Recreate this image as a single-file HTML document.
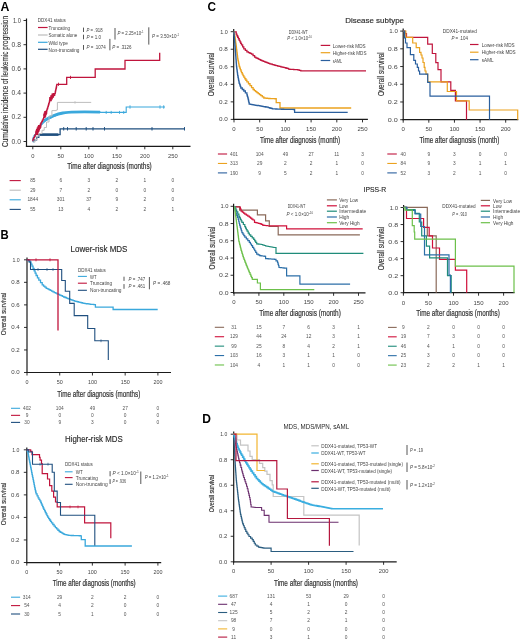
<!DOCTYPE html>
<html><head><meta charset="utf-8"><style>
html,body{margin:0;padding:0;background:#fff;}
svg{display:block;font-family:"Liberation Sans", sans-serif;will-change:transform;}

</style></head><body>
<svg width="520" height="640" viewBox="0 0 520 640" font-family='"Liberation Sans", sans-serif' fill="#333">
<rect width="520" height="640" fill="#fff"/>
<text x="0.50" y="11.08" font-size="12.3" font-weight="bold" fill="#000" textLength="8.90" lengthAdjust="spacingAndGlyphs">A</text>
<line x1="26.50" y1="18.50" x2="26.50" y2="146.90" stroke="#1a1a1a" stroke-width="1.2"/>
<line x1="25.90" y1="146.30" x2="190.50" y2="146.30" stroke="#1a1a1a" stroke-width="1.2"/>
<line x1="23.50" y1="141.50" x2="26.50" y2="141.50" stroke="#1a1a1a" stroke-width="0.9"/>
<text x="20.90" y="143.64" font-size="6.3" text-anchor="end" fill="#444" textLength="9.40" lengthAdjust="spacingAndGlyphs">0.0</text>
<line x1="23.50" y1="117.30" x2="26.50" y2="117.30" stroke="#1a1a1a" stroke-width="0.9"/>
<text x="20.90" y="119.44" font-size="6.3" text-anchor="end" fill="#444" textLength="9.40" lengthAdjust="spacingAndGlyphs">0.2</text>
<line x1="23.50" y1="93.10" x2="26.50" y2="93.10" stroke="#1a1a1a" stroke-width="0.9"/>
<text x="20.90" y="95.24" font-size="6.3" text-anchor="end" fill="#444" textLength="9.40" lengthAdjust="spacingAndGlyphs">0.4</text>
<line x1="23.50" y1="68.90" x2="26.50" y2="68.90" stroke="#1a1a1a" stroke-width="0.9"/>
<text x="20.90" y="71.04" font-size="6.3" text-anchor="end" fill="#444" textLength="9.40" lengthAdjust="spacingAndGlyphs">0.6</text>
<line x1="23.50" y1="44.70" x2="26.50" y2="44.70" stroke="#1a1a1a" stroke-width="0.9"/>
<text x="20.90" y="46.84" font-size="6.3" text-anchor="end" fill="#444" textLength="9.40" lengthAdjust="spacingAndGlyphs">0.8</text>
<line x1="23.50" y1="20.50" x2="26.50" y2="20.50" stroke="#1a1a1a" stroke-width="0.9"/>
<text x="20.90" y="22.64" font-size="6.3" text-anchor="end" fill="#444" textLength="7.99" lengthAdjust="spacingAndGlyphs">1.0</text>
<line x1="32.80" y1="146.30" x2="32.80" y2="149.30" stroke="#1a1a1a" stroke-width="0.9"/>
<text x="32.80" y="157.87" font-size="5.8" text-anchor="middle" fill="#444">0</text>
<line x1="60.80" y1="146.30" x2="60.80" y2="149.30" stroke="#1a1a1a" stroke-width="0.9"/>
<text x="60.80" y="157.87" font-size="5.8" text-anchor="middle" fill="#444">50</text>
<line x1="88.80" y1="146.30" x2="88.80" y2="149.30" stroke="#1a1a1a" stroke-width="0.9"/>
<text x="88.80" y="157.87" font-size="5.8" text-anchor="middle" fill="#444">100</text>
<line x1="116.80" y1="146.30" x2="116.80" y2="149.30" stroke="#1a1a1a" stroke-width="0.9"/>
<text x="116.80" y="157.87" font-size="5.8" text-anchor="middle" fill="#444">150</text>
<line x1="144.80" y1="146.30" x2="144.80" y2="149.30" stroke="#1a1a1a" stroke-width="0.9"/>
<text x="144.80" y="157.87" font-size="5.8" text-anchor="middle" fill="#444">200</text>
<line x1="172.80" y1="146.30" x2="172.80" y2="149.30" stroke="#1a1a1a" stroke-width="0.9"/>
<text x="172.80" y="157.87" font-size="5.8" text-anchor="middle" fill="#444">250</text>
<text transform="translate(4.80 81.50) rotate(-90)" x="0" y="2.86" font-size="8.4" stroke="#333" stroke-width="0.15" text-anchor="middle" textLength="131.00" lengthAdjust="spacingAndGlyphs">Cumulative incidence of leukemic progression</text>
<text x="109.50" y="169.42" font-size="8.6" stroke="#333" stroke-width="0.2" text-anchor="middle" textLength="84.50" lengthAdjust="spacingAndGlyphs">Time after diagnosis (months)</text>
<text x="37.80" y="22.07" font-size="5.5" fill="#444" textLength="28.00" lengthAdjust="spacingAndGlyphs">DDX41 status</text>
<line x1="38.00" y1="27.50" x2="47.60" y2="27.50" stroke="#c0143c" stroke-width="1.2"/>
<text x="48.50" y="29.87" font-size="5.8" fill="#444" textLength="21.50" lengthAdjust="spacingAndGlyphs">Truncating</text>
<line x1="38.00" y1="35.00" x2="47.60" y2="35.00" stroke="#bdbdbd" stroke-width="1.2"/>
<text x="48.50" y="37.37" font-size="5.8" fill="#444" textLength="28.80" lengthAdjust="spacingAndGlyphs">Somatic alone</text>
<line x1="38.00" y1="42.30" x2="47.60" y2="42.30" stroke="#3aa8dc" stroke-width="1.2"/>
<text x="48.50" y="44.67" font-size="5.8" fill="#444" textLength="19.50" lengthAdjust="spacingAndGlyphs">Wild type</text>
<line x1="38.00" y1="49.30" x2="47.60" y2="49.30" stroke="#1f4f7f" stroke-width="1.2"/>
<text x="48.50" y="51.67" font-size="5.8" fill="#444" textLength="31.00" lengthAdjust="spacingAndGlyphs">Non-truncating</text>
<line x1="83.50" y1="27.60" x2="83.50" y2="32.00" stroke="#444" stroke-width="0.9"/>
<text x="86.50" y="31.90" font-size="5.6" fill="#444" textLength="16.00" lengthAdjust="spacingAndGlyphs"><tspan font-style="italic">P</tspan> = .918</text>
<line x1="83.50" y1="34.70" x2="83.50" y2="39.30" stroke="#444" stroke-width="0.9"/>
<text x="86.50" y="39.00" font-size="5.6" fill="#444" textLength="14.50" lengthAdjust="spacingAndGlyphs"><tspan font-style="italic">P</tspan> = 1.0</text>
<line x1="83.50" y1="45.00" x2="83.50" y2="49.80" stroke="#444" stroke-width="0.9"/>
<text x="86.50" y="49.40" font-size="5.6" fill="#444" textLength="19.30" lengthAdjust="spacingAndGlyphs"><tspan font-style="italic">P</tspan> = .1074</text>
<line x1="109.90" y1="38.90" x2="109.90" y2="50.30" stroke="#444" stroke-width="0.9"/>
<text x="112.30" y="48.80" font-size="5.6" fill="#444" textLength="19.30" lengthAdjust="spacingAndGlyphs"><tspan font-style="italic">P</tspan> = .3126</text>
<line x1="115.00" y1="28.00" x2="115.00" y2="39.60" stroke="#444" stroke-width="0.9"/>
<text x="117.50" y="34.90" font-size="5.6" fill="#444" textLength="26.00" lengthAdjust="spacingAndGlyphs"><tspan font-style="italic">P</tspan> = 2.25×10<tspan font-size="3.4" dy="-2">-1</tspan></text>
<line x1="148.80" y1="27.30" x2="148.80" y2="44.60" stroke="#444" stroke-width="0.9"/>
<text x="152.00" y="38.30" font-size="5.6" fill="#444" textLength="27.00" lengthAdjust="spacingAndGlyphs"><tspan font-style="italic">P</tspan> = 3.50×10<tspan font-size="3.4" dy="-2">-1</tspan></text>
<path d="M32.80 141.50H34.50V139.80H36.60V137.40H38.80V134.60H60.10V128.80H184.50V128.80" fill="none" stroke="#1f4f7f" stroke-width="1.3"/>
<path d="M39.5 134.6H58.5" fill="none" stroke="#1f4f7f" stroke-width="2.6"/>
<line x1="63.70" y1="127.10" x2="63.70" y2="130.50" stroke="#1f4f7f" stroke-width="1.0"/>
<line x1="67.50" y1="127.10" x2="67.50" y2="130.50" stroke="#1f4f7f" stroke-width="1.0"/>
<line x1="76.20" y1="127.10" x2="76.20" y2="130.50" stroke="#1f4f7f" stroke-width="1.0"/>
<line x1="86.20" y1="127.10" x2="86.20" y2="130.50" stroke="#1f4f7f" stroke-width="1.0"/>
<line x1="93.00" y1="127.10" x2="93.00" y2="130.50" stroke="#1f4f7f" stroke-width="1.0"/>
<line x1="104.50" y1="127.10" x2="104.50" y2="130.50" stroke="#1f4f7f" stroke-width="1.0"/>
<line x1="152.00" y1="127.10" x2="152.00" y2="130.50" stroke="#1f4f7f" stroke-width="1.0"/>
<line x1="184.50" y1="127.10" x2="184.50" y2="130.50" stroke="#1f4f7f" stroke-width="1.0"/>
<path d="M32.80 141.50H32.97V140.13H33.13V138.77H33.30V137.40H34.12V136.03H34.95V134.65H35.77V133.28H36.60V131.90H37.32V130.62H38.03V129.33H38.75V128.05H39.47V126.77H40.18V125.48H40.90V124.20H42.00V123.13H43.10V122.07H44.20V121.00H45.30V120.27H46.40V119.53H47.50V118.80H48.60V118.25H49.70V117.70H50.80V117.15H51.90V116.60H53.00V116.16H54.10V115.72H55.20V115.28H56.30V114.84H57.40V114.40H58.48V114.14H59.56V113.88H60.64V113.62H61.72V113.36H62.80V113.10H63.90V112.92H65.00V112.74H66.10V112.56H67.20V112.38H68.30V112.20H69.40V112.13H70.50V112.06H71.60V111.99H72.70V111.91H73.80V111.84H74.90V111.77H76.00V111.70H77.00V111.72H78.00V111.74H79.00V111.76H80.00V111.78H81.00V111.80H82.00V111.82H83.00V111.84H84.00V111.86H85.00V111.88H86.00V111.90H87.00V111.93H88.00V111.96H89.00V111.99H90.00V112.01H91.00V112.04H92.00V112.07H93.00V112.10H94.00V112.13H95.00V112.16H96.00V112.19H97.00V112.21H98.00V112.24H99.00V112.27H100.00V112.30" fill="none" stroke="#3aa8dc" stroke-width="1.4"/>
<path d="M44 120.6 C50 117, 56 114.2, 62.8 113 S 80 111.6, 100 112.1" fill="none" stroke="#3aa8dc" stroke-width="2.8"/>
<path d="M100.00 112.40H126.20V112.40H126.20V107.00H165.00V107.00" fill="none" stroke="#3aa8dc" stroke-width="1.1"/>
<line x1="106.20" y1="110.90" x2="106.20" y2="113.90" stroke="#3aa8dc" stroke-width="0.9"/>
<line x1="111.20" y1="110.90" x2="111.20" y2="113.90" stroke="#3aa8dc" stroke-width="0.9"/>
<line x1="119.50" y1="110.90" x2="119.50" y2="113.90" stroke="#3aa8dc" stroke-width="0.9"/>
<line x1="123.70" y1="110.90" x2="123.70" y2="113.90" stroke="#3aa8dc" stroke-width="0.9"/>
<line x1="130.00" y1="105.30" x2="130.00" y2="108.70" stroke="#3aa8dc" stroke-width="0.9"/>
<line x1="160.00" y1="105.30" x2="160.00" y2="108.70" stroke="#3aa8dc" stroke-width="0.9"/>
<line x1="163.70" y1="105.30" x2="163.70" y2="108.70" stroke="#3aa8dc" stroke-width="0.9"/>
<path d="M33.50 141.50H35.00V139.50H37.00V136.00H39.00V133.50H42.00V130.30H44.20V127.50H46.50V122.00H49.00V116.00H51.90V110.60H56.30V110.00H57.40V102.40H91.20V102.40" fill="none" stroke="#bdbdbd" stroke-width="1.0"/>
<line x1="75.00" y1="101.00" x2="75.00" y2="103.80" stroke="#bdbdbd" stroke-width="0.7"/>
<path d="M32.20 140.60H32.97V139.07H33.73V137.53H34.50V136.00H35.20V134.63H35.90V133.27H36.60V131.90H37.24V130.58H37.88V129.26H38.52V127.94H39.16V126.62H39.80V125.30H40.46V124.00H41.12V122.70H41.78V121.40H42.44V120.10H43.10V118.80H43.65V117.42H44.20V116.05H44.75V114.67H45.30V113.30H45.85V111.92H46.40V110.55H46.95V109.17H47.50V107.80H47.90V106.45H48.30V105.10H48.70V103.75H49.10V102.40H49.47V100.93H49.83V99.47H50.20V98.00H51.90V95.80H53.50V93.60H55.20V92.00H55.48V90.75H55.75V89.50H56.02V88.25H56.30V87.00H56.55V85.65H56.80V84.30H66.7V77.4H95.2V69.0H125V60.3H159.7V52.7" fill="none" stroke="#c0143c" stroke-width="1.3"/>
<path d="M36.00 133.50H36.67V132.00H37.33V130.50H38.00V129.00H38.67V127.67H39.33V126.33H40.00V125.00" fill="none" stroke="#c0143c" stroke-width="2.8"/>
<path d="M44.00 116.50H44.50V115.12H45.00V113.75H45.50V112.38H46.00V111.00" fill="none" stroke="#c0143c" stroke-width="2.6"/>
<path d="M49.60 100.00H50.55V98.25H51.50V96.50H52.75V94.75H54.00V93.00" fill="none" stroke="#c0143c" stroke-width="2.6"/>
<line x1="58.50" y1="82.70" x2="58.50" y2="85.90" stroke="#c0143c" stroke-width="0.9"/>
<line x1="70.50" y1="75.80" x2="70.50" y2="79.00" stroke="#c0143c" stroke-width="0.9"/>
<line x1="9.60" y1="180.60" x2="20.80" y2="180.60" stroke="#c0143c" stroke-width="1.1"/>
<text x="32.80" y="182.23" font-size="4.8" text-anchor="middle" fill="#555">85</text>
<text x="60.80" y="182.23" font-size="4.8" text-anchor="middle" fill="#555">6</text>
<text x="88.80" y="182.23" font-size="4.8" text-anchor="middle" fill="#555">3</text>
<text x="116.80" y="182.23" font-size="4.8" text-anchor="middle" fill="#555">2</text>
<text x="144.80" y="182.23" font-size="4.8" text-anchor="middle" fill="#555">1</text>
<text x="172.80" y="182.23" font-size="4.8" text-anchor="middle" fill="#555">0</text>
<line x1="9.60" y1="190.20" x2="20.80" y2="190.20" stroke="#bdbdbd" stroke-width="1.1"/>
<text x="32.80" y="191.83" font-size="4.8" text-anchor="middle" fill="#555">29</text>
<text x="60.80" y="191.83" font-size="4.8" text-anchor="middle" fill="#555">7</text>
<text x="88.80" y="191.83" font-size="4.8" text-anchor="middle" fill="#555">2</text>
<text x="116.80" y="191.83" font-size="4.8" text-anchor="middle" fill="#555">0</text>
<text x="144.80" y="191.83" font-size="4.8" text-anchor="middle" fill="#555">0</text>
<text x="172.80" y="191.83" font-size="4.8" text-anchor="middle" fill="#555">0</text>
<line x1="9.60" y1="199.80" x2="20.80" y2="199.80" stroke="#3aa8dc" stroke-width="1.1"/>
<text x="32.80" y="201.43" font-size="4.8" text-anchor="middle" fill="#555">1844</text>
<text x="60.80" y="201.43" font-size="4.8" text-anchor="middle" fill="#555">301</text>
<text x="88.80" y="201.43" font-size="4.8" text-anchor="middle" fill="#555">37</text>
<text x="116.80" y="201.43" font-size="4.8" text-anchor="middle" fill="#555">9</text>
<text x="144.80" y="201.43" font-size="4.8" text-anchor="middle" fill="#555">2</text>
<text x="172.80" y="201.43" font-size="4.8" text-anchor="middle" fill="#555">0</text>
<line x1="9.60" y1="209.40" x2="20.80" y2="209.40" stroke="#1f4f7f" stroke-width="1.1"/>
<text x="32.80" y="211.03" font-size="4.8" text-anchor="middle" fill="#555">55</text>
<text x="60.80" y="211.03" font-size="4.8" text-anchor="middle" fill="#555">13</text>
<text x="88.80" y="211.03" font-size="4.8" text-anchor="middle" fill="#555">4</text>
<text x="116.80" y="211.03" font-size="4.8" text-anchor="middle" fill="#555">2</text>
<text x="144.80" y="211.03" font-size="4.8" text-anchor="middle" fill="#555">2</text>
<text x="172.80" y="211.03" font-size="4.8" text-anchor="middle" fill="#555">1</text>
<text x="0.60" y="238.78" font-size="12" font-weight="bold" fill="#000" textLength="8.20" lengthAdjust="spacingAndGlyphs">B</text>
<text x="99.00" y="251.99" font-size="8.2" stroke="#2a2a2a" stroke-width="0.15" text-anchor="middle" fill="#2a2a2a" textLength="56.90" lengthAdjust="spacingAndGlyphs">Lower-risk MDS</text>
<line x1="27.00" y1="257.50" x2="27.00" y2="373.10" stroke="#1a1a1a" stroke-width="1.2"/>
<line x1="26.40" y1="372.50" x2="171.00" y2="372.50" stroke="#1a1a1a" stroke-width="1.2"/>
<line x1="24.00" y1="372.50" x2="27.00" y2="372.50" stroke="#1a1a1a" stroke-width="0.9"/>
<text x="19.70" y="374.34" font-size="5.4" text-anchor="end" fill="#444" textLength="8.50" lengthAdjust="spacingAndGlyphs">0.0</text>
<line x1="24.00" y1="349.96" x2="27.00" y2="349.96" stroke="#1a1a1a" stroke-width="0.9"/>
<text x="19.70" y="351.80" font-size="5.4" text-anchor="end" fill="#444" textLength="8.50" lengthAdjust="spacingAndGlyphs">0.2</text>
<line x1="24.00" y1="327.42" x2="27.00" y2="327.42" stroke="#1a1a1a" stroke-width="0.9"/>
<text x="19.70" y="329.26" font-size="5.4" text-anchor="end" fill="#444" textLength="8.50" lengthAdjust="spacingAndGlyphs">0.4</text>
<line x1="24.00" y1="304.88" x2="27.00" y2="304.88" stroke="#1a1a1a" stroke-width="0.9"/>
<text x="19.70" y="306.72" font-size="5.4" text-anchor="end" fill="#444" textLength="8.50" lengthAdjust="spacingAndGlyphs">0.6</text>
<line x1="24.00" y1="282.34" x2="27.00" y2="282.34" stroke="#1a1a1a" stroke-width="0.9"/>
<text x="19.70" y="284.18" font-size="5.4" text-anchor="end" fill="#444" textLength="8.50" lengthAdjust="spacingAndGlyphs">0.8</text>
<line x1="24.00" y1="259.80" x2="27.00" y2="259.80" stroke="#1a1a1a" stroke-width="0.9"/>
<text x="19.70" y="261.64" font-size="5.4" text-anchor="end" fill="#444" textLength="7.22" lengthAdjust="spacingAndGlyphs">1.0</text>
<line x1="27.00" y1="372.50" x2="27.00" y2="375.50" stroke="#1a1a1a" stroke-width="0.9"/>
<text x="27.00" y="384.14" font-size="5.4" text-anchor="middle" fill="#444">0</text>
<line x1="59.73" y1="372.50" x2="59.73" y2="375.50" stroke="#1a1a1a" stroke-width="0.9"/>
<text x="59.73" y="384.14" font-size="5.4" text-anchor="middle" fill="#444">50</text>
<line x1="92.45" y1="372.50" x2="92.45" y2="375.50" stroke="#1a1a1a" stroke-width="0.9"/>
<text x="92.45" y="384.14" font-size="5.4" text-anchor="middle" fill="#444">100</text>
<line x1="125.17" y1="372.50" x2="125.17" y2="375.50" stroke="#1a1a1a" stroke-width="0.9"/>
<text x="125.17" y="384.14" font-size="5.4" text-anchor="middle" fill="#444">150</text>
<line x1="157.90" y1="372.50" x2="157.90" y2="375.50" stroke="#1a1a1a" stroke-width="0.9"/>
<text x="157.90" y="384.14" font-size="5.4" text-anchor="middle" fill="#444">200</text>
<text transform="translate(3.70 314.00) rotate(-90)" x="0" y="2.45" font-size="7.2" stroke="#333" stroke-width="0.15" text-anchor="middle" textLength="42.70" lengthAdjust="spacingAndGlyphs">Overall survival</text>
<text x="98.80" y="397.22" font-size="8.6" stroke="#333" stroke-width="0.2" text-anchor="middle" textLength="83.00" lengthAdjust="spacingAndGlyphs">Time after diagnosis (months)</text>
<text x="77.90" y="271.54" font-size="5.4" fill="#444" textLength="28.00" lengthAdjust="spacingAndGlyphs">DDX41 status</text>
<line x1="77.90" y1="276.40" x2="86.90" y2="276.40" stroke="#3aa8dc" stroke-width="1.1"/>
<text x="90.00" y="278.50" font-size="5.6" fill="#444" textLength="6.50" lengthAdjust="spacingAndGlyphs">WT</text>
<line x1="77.90" y1="283.20" x2="86.90" y2="283.20" stroke="#c0143c" stroke-width="1.1"/>
<text x="90.00" y="285.30" font-size="5.6" fill="#444" textLength="22.00" lengthAdjust="spacingAndGlyphs">Truncating</text>
<line x1="77.90" y1="290.30" x2="86.90" y2="290.30" stroke="#1f4f7f" stroke-width="1.1"/>
<text x="90.00" y="292.40" font-size="5.6" fill="#444" textLength="31.50" lengthAdjust="spacingAndGlyphs">Non-truncating</text>
<line x1="124.00" y1="276.70" x2="124.00" y2="280.90" stroke="#444" stroke-width="0.9"/>
<text x="128.60" y="280.90" font-size="5.0" fill="#444" textLength="16.60" lengthAdjust="spacingAndGlyphs"><tspan font-style="italic">P</tspan> = .747</text>
<line x1="124.00" y1="284.10" x2="124.00" y2="288.80" stroke="#444" stroke-width="0.9"/>
<text x="128.60" y="287.60" font-size="5.0" fill="#444" textLength="16.60" lengthAdjust="spacingAndGlyphs"><tspan font-style="italic">P</tspan> = .461</text>
<line x1="149.40" y1="277.00" x2="149.40" y2="289.30" stroke="#444" stroke-width="0.9"/>
<text x="153.00" y="284.50" font-size="5.0" fill="#444" textLength="17.40" lengthAdjust="spacingAndGlyphs"><tspan font-style="italic">P</tspan> = .468</text>
<path d="M26.70 259.80H28.20V260.50H30.00V262.00H31.00V264.05H32.00V266.10H33.05V268.45H34.10V270.80H35.10V273.15H36.10V275.50H37.45V277.85H38.80V280.20H40.50V282.55H42.20V284.90H43.53V286.03H44.87V287.17H46.20V288.30H47.53V288.97H48.87V289.63H50.20V290.30H51.57V291.07H52.93V291.83H54.30V292.60H55.63V293.20H56.97V293.80H58.30V294.40H59.65V295.05H61.00V295.70H62.35V296.35H63.70V297.00H65.05V297.52H66.40V298.05H67.75V298.58H69.10V299.10H70.45V299.60H71.80V300.10H73.15V300.60H74.50V301.10H75.83V301.43H77.17V301.77H78.50V302.10H79.83V302.43H81.17V302.77H82.50V303.10H83.85V303.32H85.20V303.53H86.55V303.75H87.90V303.97H89.25V304.18H90.60V304.40H92.20V304.47H93.80V304.53H95.40V304.60H95.40V307.20H96.76V307.20H98.12V307.20H99.48V307.20H100.85V307.20H102.21V307.20H103.57V307.20H104.93V307.20H106.29V307.20H107.65V307.20H109.02V307.20H110.38V307.20H111.74V307.20H113.10V307.20H113.10V309.50H114.41V309.50H115.72V309.50H117.04V309.50H118.35V309.50H119.66V309.50H120.97V309.50H122.28V309.50H123.59V309.50H124.91V309.50H126.22V309.50H127.53V309.50H128.84V309.50H130.15V309.50H131.46V309.50H132.78V309.50H134.09V309.50H135.40V309.50H136.71V309.50H138.02V309.50H139.34V309.50H140.65V309.50H141.96V309.50H143.27V309.50H144.58V309.50H145.89V309.50H147.21V309.50H148.52V309.50H149.83V309.50H151.14V309.50H152.45V309.50H153.76V309.50H155.08V309.50H156.39V309.50H157.70V309.50" fill="none" stroke="#3aa8dc" stroke-width="1.3"/>
<path d="M26.70 259.80H29.00V259.80H29.00V262.00H30.50V262.00H30.50V269.50H61.70V269.50H61.70V280.50H65.30V280.50H65.30V291.30H69.70V291.30H69.70V303.40H74.20V303.40H74.20V315.60H87.70V315.60H87.70V328.50H94.80V328.50H94.80V340.80H108.30V340.80H108.30V360.00" fill="none" stroke="#1f4f7f" stroke-width="1.1"/>
<path d="M26.70 259.80H58.00V259.80H58.00V330.60" fill="none" stroke="#c0143c" stroke-width="1.3"/>
<line x1="36.00" y1="258.30" x2="36.00" y2="261.30" stroke="#c0143c" stroke-width="0.8"/>
<line x1="50.00" y1="258.30" x2="50.00" y2="261.30" stroke="#c0143c" stroke-width="0.8"/>
<line x1="38.00" y1="268.10" x2="38.00" y2="270.90" stroke="#1f4f7f" stroke-width="0.7"/>
<line x1="47.00" y1="268.10" x2="47.00" y2="270.90" stroke="#1f4f7f" stroke-width="0.7"/>
<line x1="53.00" y1="268.10" x2="53.00" y2="270.90" stroke="#1f4f7f" stroke-width="0.7"/>
<line x1="101.00" y1="339.40" x2="101.00" y2="342.20" stroke="#1f4f7f" stroke-width="0.7"/>
<line x1="11.00" y1="408.30" x2="20.10" y2="408.30" stroke="#3aa8dc" stroke-width="1.1"/>
<text x="27.00" y="409.93" font-size="4.8" text-anchor="middle" fill="#555">402</text>
<text x="59.73" y="409.93" font-size="4.8" text-anchor="middle" fill="#555">104</text>
<text x="92.45" y="409.93" font-size="4.8" text-anchor="middle" fill="#555">49</text>
<text x="125.17" y="409.93" font-size="4.8" text-anchor="middle" fill="#555">27</text>
<text x="157.90" y="409.93" font-size="4.8" text-anchor="middle" fill="#555">0</text>
<line x1="11.00" y1="415.35" x2="20.10" y2="415.35" stroke="#c0143c" stroke-width="1.1"/>
<text x="27.00" y="416.98" font-size="4.8" text-anchor="middle" fill="#555">9</text>
<text x="59.73" y="416.98" font-size="4.8" text-anchor="middle" fill="#555">0</text>
<text x="92.45" y="416.98" font-size="4.8" text-anchor="middle" fill="#555">0</text>
<text x="125.17" y="416.98" font-size="4.8" text-anchor="middle" fill="#555">0</text>
<text x="157.90" y="416.98" font-size="4.8" text-anchor="middle" fill="#555">0</text>
<line x1="11.00" y1="422.40" x2="20.10" y2="422.40" stroke="#1f4f7f" stroke-width="1.1"/>
<text x="27.00" y="424.03" font-size="4.8" text-anchor="middle" fill="#555">30</text>
<text x="59.73" y="424.03" font-size="4.8" text-anchor="middle" fill="#555">9</text>
<text x="92.45" y="424.03" font-size="4.8" text-anchor="middle" fill="#555">3</text>
<text x="125.17" y="424.03" font-size="4.8" text-anchor="middle" fill="#555">0</text>
<text x="157.90" y="424.03" font-size="4.8" text-anchor="middle" fill="#555">0</text>
<text x="93.85" y="441.99" font-size="8.2" stroke="#2a2a2a" stroke-width="0.15" text-anchor="middle" fill="#2a2a2a" textLength="57.70" lengthAdjust="spacingAndGlyphs">Higher-risk MDS</text>
<line x1="26.80" y1="447.50" x2="26.80" y2="563.20" stroke="#1a1a1a" stroke-width="1.2"/>
<line x1="26.20" y1="562.60" x2="161.20" y2="562.60" stroke="#1a1a1a" stroke-width="1.2"/>
<line x1="23.80" y1="562.50" x2="26.80" y2="562.50" stroke="#1a1a1a" stroke-width="0.9"/>
<text x="19.50" y="564.34" font-size="5.4" text-anchor="end" fill="#444" textLength="8.50" lengthAdjust="spacingAndGlyphs">0.0</text>
<line x1="23.80" y1="539.96" x2="26.80" y2="539.96" stroke="#1a1a1a" stroke-width="0.9"/>
<text x="19.50" y="541.80" font-size="5.4" text-anchor="end" fill="#444" textLength="8.50" lengthAdjust="spacingAndGlyphs">0.2</text>
<line x1="23.80" y1="517.42" x2="26.80" y2="517.42" stroke="#1a1a1a" stroke-width="0.9"/>
<text x="19.50" y="519.26" font-size="5.4" text-anchor="end" fill="#444" textLength="8.50" lengthAdjust="spacingAndGlyphs">0.4</text>
<line x1="23.80" y1="494.88" x2="26.80" y2="494.88" stroke="#1a1a1a" stroke-width="0.9"/>
<text x="19.50" y="496.72" font-size="5.4" text-anchor="end" fill="#444" textLength="8.50" lengthAdjust="spacingAndGlyphs">0.6</text>
<line x1="23.80" y1="472.34" x2="26.80" y2="472.34" stroke="#1a1a1a" stroke-width="0.9"/>
<text x="19.50" y="474.18" font-size="5.4" text-anchor="end" fill="#444" textLength="8.50" lengthAdjust="spacingAndGlyphs">0.8</text>
<line x1="23.80" y1="449.80" x2="26.80" y2="449.80" stroke="#1a1a1a" stroke-width="0.9"/>
<text x="19.50" y="451.64" font-size="5.4" text-anchor="end" fill="#444" textLength="7.22" lengthAdjust="spacingAndGlyphs">1.0</text>
<line x1="26.80" y1="562.60" x2="26.80" y2="565.60" stroke="#1a1a1a" stroke-width="0.9"/>
<text x="26.80" y="573.64" font-size="5.4" text-anchor="middle" fill="#444">0</text>
<line x1="59.58" y1="562.60" x2="59.58" y2="565.60" stroke="#1a1a1a" stroke-width="0.9"/>
<text x="59.58" y="573.64" font-size="5.4" text-anchor="middle" fill="#444">50</text>
<line x1="92.35" y1="562.60" x2="92.35" y2="565.60" stroke="#1a1a1a" stroke-width="0.9"/>
<text x="92.35" y="573.64" font-size="5.4" text-anchor="middle" fill="#444">100</text>
<line x1="125.12" y1="562.60" x2="125.12" y2="565.60" stroke="#1a1a1a" stroke-width="0.9"/>
<text x="125.12" y="573.64" font-size="5.4" text-anchor="middle" fill="#444">150</text>
<line x1="157.90" y1="562.60" x2="157.90" y2="565.60" stroke="#1a1a1a" stroke-width="0.9"/>
<text x="157.90" y="573.64" font-size="5.4" text-anchor="middle" fill="#444">200</text>
<text transform="translate(3.70 504.00) rotate(-90)" x="0" y="2.45" font-size="7.2" stroke="#333" stroke-width="0.15" text-anchor="middle" textLength="42.70" lengthAdjust="spacingAndGlyphs">Overall survival</text>
<text x="94.20" y="585.92" font-size="8.6" stroke="#333" stroke-width="0.2" text-anchor="middle" textLength="83.00" lengthAdjust="spacingAndGlyphs">Time after diagnosis (months)</text>
<text x="64.90" y="466.04" font-size="5.4" fill="#444" textLength="27.90" lengthAdjust="spacingAndGlyphs">DDX41 status</text>
<line x1="64.90" y1="471.80" x2="72.60" y2="471.80" stroke="#3aa8dc" stroke-width="1.1"/>
<text x="75.80" y="473.90" font-size="5.6" fill="#444" textLength="7.00" lengthAdjust="spacingAndGlyphs">WT</text>
<line x1="64.90" y1="477.60" x2="72.60" y2="477.60" stroke="#c0143c" stroke-width="1.1"/>
<text x="75.80" y="479.70" font-size="5.6" fill="#444" textLength="22.20" lengthAdjust="spacingAndGlyphs">Truncating</text>
<line x1="64.90" y1="484.30" x2="72.60" y2="484.30" stroke="#1f4f7f" stroke-width="1.1"/>
<text x="75.80" y="486.40" font-size="5.6" fill="#444" textLength="32.00" lengthAdjust="spacingAndGlyphs">Non-truncating</text>
<line x1="110.10" y1="471.10" x2="110.10" y2="476.30" stroke="#444" stroke-width="0.9"/>
<text x="112.40" y="475.10" font-size="5.0" fill="#444" textLength="26.50" lengthAdjust="spacingAndGlyphs"><tspan font-style="italic">P</tspan> &lt; 1.0×10<tspan font-size="3.4" dy="-2">-1</tspan></text>
<line x1="110.10" y1="479.20" x2="110.10" y2="484.00" stroke="#444" stroke-width="0.9"/>
<text x="112.40" y="483.20" font-size="5.0" fill="#444" textLength="13.50" lengthAdjust="spacingAndGlyphs"><tspan font-style="italic">P</tspan> = .936</text>
<line x1="140.80" y1="471.50" x2="140.80" y2="484.00" stroke="#444" stroke-width="0.9"/>
<text x="144.70" y="478.90" font-size="5.0" fill="#444" textLength="24.00" lengthAdjust="spacingAndGlyphs"><tspan font-style="italic">P</tspan> = 1.2×10<tspan font-size="3.4" dy="-2">-1</tspan></text>
<path d="M26.70 449.80H27.35V451.60H28.00V453.40H28.28V454.88H28.56V456.36H28.84V457.84H29.12V459.32H29.40V460.80H29.72V462.48H30.05V464.15H30.38V465.82H30.70V467.50H31.02V469.20H31.35V470.90H31.68V472.60H32.00V474.30H32.35V475.98H32.70V477.65H33.05V479.32H33.40V481.00H33.73V482.68H34.05V484.35H34.38V486.02H34.70V487.70H35.05V489.23H35.40V490.75H35.75V492.27H36.10V493.80H37.10V495.80H38.10V497.80H39.00V499.37H39.90V500.93H40.80V502.50H41.40V503.88H42.00V505.26H42.60V506.64H43.20V508.02H43.80V509.40H44.58V510.94H45.36V512.48H46.14V514.02H46.92V515.56H47.70V517.10H48.65V518.55H49.60V520.00H50.55V521.45H51.50V522.90H52.80V524.50H54.10V526.10H55.40V527.70H56.67V528.97H57.93V530.23H59.20V531.50H60.40V532.23H61.60V532.95H62.80V533.67H64.00V534.40H65.20V534.65H66.40V534.90H67.60V535.15H68.80V535.40H69.96V535.44H71.12V535.48H72.28V535.52H73.44V535.56H74.60V535.60H75.76V535.64H76.92V535.68H78.08V535.72H79.24V535.76H80.40V535.80H81.30V535.80H81.30V537.70H81.30V539.60H82.60V539.60H83.90V539.60H85.20V539.60H85.20V541.20H85.20V542.80H85.20V544.40H85.20V546.00H86.31V546.00H87.42V546.00H88.54V546.00H89.65V546.00H90.76V546.00H91.87V546.00H92.98V546.00H94.10V546.00H95.21V546.00H96.32V546.00H97.43V546.00H98.54V546.00H99.65V546.00H100.77V546.00H101.88V546.00H102.99V546.00H104.10V546.00H105.21V546.00H106.33V546.00H107.44V546.00H108.55V546.00H109.66V546.00H110.77V546.00H111.89V546.00H113.00V546.00H114.11V546.00H115.22V546.00H116.33V546.00H117.45V546.00H118.56V546.00H119.67V546.00H120.78V546.00H121.89V546.00H123.00V546.00H124.12V546.00H125.23V546.00H126.34V546.00H127.45V546.00H128.56V546.00H129.68V546.00H130.79V546.00H131.90V546.00" fill="none" stroke="#3aa8dc" stroke-width="1.3"/>
<path d="M26.70 449.80H30.70V449.80H30.70V451.40H32.00V451.40H32.00V454.70H39.50V454.70H39.50V457.40H40.10V457.40H40.10V460.10H41.50V460.10H41.50V463.50H42.20V463.50H42.20V473.60H47.50V473.60H47.50V479.00H49.60V479.00H49.60V485.70H51.80V485.70H51.80V491.10H53.60V491.10H53.60V497.10H55.50V497.10H55.50V502.00H57.20V502.00H57.20V506.90H84.60V506.90H84.60V522.90H110.80V522.90H110.80V538.30" fill="none" stroke="#c0143c" stroke-width="1.2"/>
<path d="M26.70 449.80H28.70V449.80H28.70V452.00H32.50V452.00H32.50V464.20H52.20V464.20H52.20V472.20H54.30V472.20H54.30V491.10H57.20V491.10H57.20V502.50H60.50V502.50H60.50V515.20H94.80V515.20H94.80V545.40" fill="none" stroke="#1f4f7f" stroke-width="1.1"/>
<line x1="40.00" y1="462.80" x2="40.00" y2="465.60" stroke="#1f4f7f" stroke-width="0.7"/>
<line x1="48.00" y1="462.80" x2="48.00" y2="465.60" stroke="#1f4f7f" stroke-width="0.7"/>
<line x1="70.00" y1="505.50" x2="70.00" y2="508.30" stroke="#c0143c" stroke-width="0.7"/>
<line x1="78.00" y1="505.50" x2="78.00" y2="508.30" stroke="#c0143c" stroke-width="0.7"/>
<line x1="11.00" y1="597.20" x2="20.10" y2="597.20" stroke="#3aa8dc" stroke-width="1.1"/>
<text x="26.80" y="598.83" font-size="4.8" text-anchor="middle" fill="#555">314</text>
<text x="59.58" y="598.83" font-size="4.8" text-anchor="middle" fill="#555">29</text>
<text x="92.35" y="598.83" font-size="4.8" text-anchor="middle" fill="#555">2</text>
<text x="125.12" y="598.83" font-size="4.8" text-anchor="middle" fill="#555">2</text>
<text x="157.90" y="598.83" font-size="4.8" text-anchor="middle" fill="#555">0</text>
<line x1="11.00" y1="605.60" x2="20.10" y2="605.60" stroke="#c0143c" stroke-width="1.1"/>
<text x="26.80" y="607.23" font-size="4.8" text-anchor="middle" fill="#555">54</text>
<text x="59.58" y="607.23" font-size="4.8" text-anchor="middle" fill="#555">4</text>
<text x="92.35" y="607.23" font-size="4.8" text-anchor="middle" fill="#555">2</text>
<text x="125.12" y="607.23" font-size="4.8" text-anchor="middle" fill="#555">0</text>
<text x="157.90" y="607.23" font-size="4.8" text-anchor="middle" fill="#555">0</text>
<line x1="11.00" y1="614.00" x2="20.10" y2="614.00" stroke="#1f4f7f" stroke-width="1.1"/>
<text x="26.80" y="615.63" font-size="4.8" text-anchor="middle" fill="#555">30</text>
<text x="59.58" y="615.63" font-size="4.8" text-anchor="middle" fill="#555">5</text>
<text x="92.35" y="615.63" font-size="4.8" text-anchor="middle" fill="#555">1</text>
<text x="125.12" y="615.63" font-size="4.8" text-anchor="middle" fill="#555">0</text>
<text x="157.90" y="615.63" font-size="4.8" text-anchor="middle" fill="#555">0</text>
<text x="207.60" y="11.28" font-size="12.3" font-weight="bold" fill="#000" textLength="8.50" lengthAdjust="spacingAndGlyphs">C</text>
<text x="374.60" y="23.40" font-size="7.8" stroke="#2a2a2a" stroke-width="0.15" text-anchor="middle" fill="#2a2a2a" textLength="58.80" lengthAdjust="spacingAndGlyphs">Disease subtype</text>
<line x1="233.70" y1="29.10" x2="233.70" y2="120.00" stroke="#1a1a1a" stroke-width="1.2"/>
<line x1="233.10" y1="119.40" x2="367.90" y2="119.40" stroke="#1a1a1a" stroke-width="1.2"/>
<line x1="230.70" y1="119.40" x2="233.70" y2="119.40" stroke="#1a1a1a" stroke-width="0.9"/>
<text x="227.70" y="121.44" font-size="6.0" text-anchor="end" fill="#444" textLength="8.80" lengthAdjust="spacingAndGlyphs">0.0</text>
<line x1="230.70" y1="101.86" x2="233.70" y2="101.86" stroke="#1a1a1a" stroke-width="0.9"/>
<text x="227.70" y="103.90" font-size="6.0" text-anchor="end" fill="#444" textLength="8.80" lengthAdjust="spacingAndGlyphs">0.2</text>
<line x1="230.70" y1="84.32" x2="233.70" y2="84.32" stroke="#1a1a1a" stroke-width="0.9"/>
<text x="227.70" y="86.36" font-size="6.0" text-anchor="end" fill="#444" textLength="8.80" lengthAdjust="spacingAndGlyphs">0.4</text>
<line x1="230.70" y1="66.78" x2="233.70" y2="66.78" stroke="#1a1a1a" stroke-width="0.9"/>
<text x="227.70" y="68.82" font-size="6.0" text-anchor="end" fill="#444" textLength="8.80" lengthAdjust="spacingAndGlyphs">0.6</text>
<line x1="230.70" y1="49.24" x2="233.70" y2="49.24" stroke="#1a1a1a" stroke-width="0.9"/>
<text x="227.70" y="51.28" font-size="6.0" text-anchor="end" fill="#444" textLength="8.80" lengthAdjust="spacingAndGlyphs">0.8</text>
<line x1="230.70" y1="31.70" x2="233.70" y2="31.70" stroke="#1a1a1a" stroke-width="0.9"/>
<text x="227.70" y="33.74" font-size="6.0" text-anchor="end" fill="#444" textLength="7.48" lengthAdjust="spacingAndGlyphs">1.0</text>
<line x1="234.00" y1="119.40" x2="234.00" y2="122.40" stroke="#1a1a1a" stroke-width="0.9"/>
<text x="234.00" y="130.84" font-size="6.0" text-anchor="middle" fill="#444">0</text>
<line x1="259.70" y1="119.40" x2="259.70" y2="122.40" stroke="#1a1a1a" stroke-width="0.9"/>
<text x="259.70" y="130.84" font-size="6.0" text-anchor="middle" fill="#444">50</text>
<line x1="285.40" y1="119.40" x2="285.40" y2="122.40" stroke="#1a1a1a" stroke-width="0.9"/>
<text x="285.40" y="130.84" font-size="6.0" text-anchor="middle" fill="#444">100</text>
<line x1="311.10" y1="119.40" x2="311.10" y2="122.40" stroke="#1a1a1a" stroke-width="0.9"/>
<text x="311.10" y="130.84" font-size="6.0" text-anchor="middle" fill="#444">150</text>
<line x1="336.80" y1="119.40" x2="336.80" y2="122.40" stroke="#1a1a1a" stroke-width="0.9"/>
<text x="336.80" y="130.84" font-size="6.0" text-anchor="middle" fill="#444">200</text>
<line x1="362.50" y1="119.40" x2="362.50" y2="122.40" stroke="#1a1a1a" stroke-width="0.9"/>
<text x="362.50" y="130.84" font-size="6.0" text-anchor="middle" fill="#444">250</text>
<text transform="translate(211.60 74.40) rotate(-90)" x="0" y="2.79" font-size="8.2" stroke="#333" stroke-width="0.15" text-anchor="middle" textLength="43.70" lengthAdjust="spacingAndGlyphs">Overall survival</text>
<text x="300.00" y="143.16" font-size="9.0" stroke="#333" stroke-width="0.2" text-anchor="middle" textLength="80.00" lengthAdjust="spacingAndGlyphs">Time after diagnosis (month)</text>
<text x="298.20" y="33.50" font-size="5.6" text-anchor="middle" fill="#444" textLength="19.00" lengthAdjust="spacingAndGlyphs">DDX41-WT</text>
<text x="299.60" y="39.84" font-size="5.4" text-anchor="middle" fill="#444" textLength="24.70" lengthAdjust="spacingAndGlyphs"><tspan font-style="italic">P</tspan> &lt; 1.0×10<tspan font-size="3.4" dy="-2">-10</tspan></text>
<line x1="320.70" y1="45.40" x2="330.20" y2="45.40" stroke="#c0143c" stroke-width="1.2"/>
<text x="332.80" y="47.67" font-size="5.8" fill="#444" textLength="32.80" lengthAdjust="spacingAndGlyphs">Lower-risk MDS</text>
<line x1="320.70" y1="52.70" x2="330.20" y2="52.70" stroke="#eba21f" stroke-width="1.2"/>
<text x="332.80" y="54.97" font-size="5.8" fill="#444" textLength="33.70" lengthAdjust="spacingAndGlyphs">Higher-risk MDS</text>
<line x1="320.70" y1="60.50" x2="330.20" y2="60.50" stroke="#2a5f9e" stroke-width="1.2"/>
<text x="332.80" y="62.77" font-size="5.8" fill="#444" textLength="9.20" lengthAdjust="spacingAndGlyphs">sAML</text>
<path d="M233.80 31.80H236.20V34.20H236.95V35.73H237.70V37.25H238.45V38.77H239.20V40.30H239.97V41.83H240.73V43.37H241.50V44.90H242.65V46.85H243.80V48.80H245.35V50.30H246.90V51.80H248.43V52.60H249.97V53.40H251.50V54.20H253.05V55.70H254.60V57.20H255.84V57.82H257.08V58.44H258.32V59.06H259.56V59.68H260.80V60.30H262.08V60.82H263.37V61.33H264.65V61.85H265.93V62.37H267.22V62.88H268.50V63.40H269.78V63.78H271.07V64.17H272.35V64.55H273.63V64.93H274.92V65.32H276.20V65.70H277.73V66.07H279.27V66.43H280.80V66.80H282.02V67.10H283.24V67.40H284.46V67.70H285.68V68.00H286.90V68.30H288.50V69.20H289.81V69.29H291.13V69.37H292.44V69.46H293.76V69.54H295.07V69.63H296.39V69.71H297.70V69.80H299.25V70.30H300.80V70.80H302.01V70.80H303.21V70.80H304.42V70.80H305.63V70.80H306.84V70.80H308.04V70.80H309.25V70.80H310.46V70.80H311.67V70.80H312.87V70.80H314.08V70.80H315.29V70.80H316.50V70.80H317.70V70.80H318.91V70.80H320.12V70.80H321.33V70.80H322.53V70.80H323.74V70.80H324.95V70.80H326.16V70.80H327.36V70.80H328.57V70.80H329.78V70.80H330.99V70.80H332.19V70.80H333.40V70.80H334.61V70.80H335.81V70.80H337.02V70.80H338.23V70.80H339.44V70.80H340.64V70.80H341.85V70.80H343.06V70.80H344.27V70.80H345.47V70.80H346.68V70.80H347.89V70.80H349.10V70.80H350.30V70.80H351.51V70.80H352.72V70.80H353.93V70.80H355.13V70.80H356.34V70.80H357.55V70.80H358.76V70.80H359.96V70.80H361.17V70.80H362.38V70.80H363.59V70.80H364.79V70.80H366.00V70.80" fill="none" stroke="#c0143c" stroke-width="1.3"/>
<path d="M233.80 31.80H234.10V33.35H234.40V34.90H234.70V36.45H235.00V38.00H235.20V39.42H235.40V40.83H235.60V42.25H235.80V43.67H236.00V45.08H236.20V46.50H236.39V48.04H236.57V49.58H236.76V51.11H236.95V52.65H237.14V54.19H237.32V55.72H237.51V57.26H237.70V58.80H238.00V60.34H238.30V61.88H238.60V63.42H238.90V64.96H239.20V66.50H239.77V68.03H240.35V69.55H240.93V71.07H241.50V72.60H242.27V74.13H243.03V75.67H243.80V77.20H244.83V78.73H245.87V80.27H246.90V81.80H248.45V83.75H250.00V85.70H251.55V87.60H253.10V89.50H254.37V90.53H255.63V91.57H256.90V92.60H258.20V93.63H259.50V94.67H260.80V95.70H262.30V96.85H263.80V98.00H265.04V98.12H266.28V98.24H267.52V98.36H268.76V98.48H270.00V98.60H271.24V98.64H272.48V98.68H273.72V98.72H274.96V98.76H276.20V98.80H276.20V100.70H276.20V102.60H277.47V102.60H278.73V102.60H280.00V102.60H280.00V104.40H280.00V106.20H280.00V108.00H281.11V108.00H282.23V108.00H283.34V108.00H284.45V108.00H285.56V108.00H286.68V108.00H287.79V108.00H288.90V108.00H290.01V108.00H291.12V108.00H292.24V108.00H293.35V108.00H294.46V108.00H295.57V108.00H296.69V108.00H297.80V108.00H298.91V108.00H300.02V108.00H301.14V108.00H302.25V108.00H303.36V108.00H304.48V108.00H305.59V108.00H306.70V108.00H307.81V108.00H308.93V108.00H310.04V108.00H311.15V108.00H312.26V108.00H313.38V108.00H314.49V108.00H315.60V108.00H316.71V108.00H317.82V108.00H318.94V108.00H320.05V108.00H321.16V108.00H322.27V108.00H323.39V108.00H324.50V108.00H325.61V108.00H326.73V108.00H327.84V108.00H328.95V108.00H330.06V108.00H331.18V108.00H332.29V108.00H333.40V108.00H334.51V108.00H335.62V108.00H336.74V108.00H337.85V108.00H338.96V108.00H340.07V108.00H341.19V108.00H342.30V108.00H343.41V108.00H344.52V108.00H345.64V108.00H346.75V108.00H347.86V108.00H348.98V108.00H350.09V108.00H351.20V108.00" fill="none" stroke="#eba21f" stroke-width="1.3"/>
<path d="M233.80 31.80H233.93V33.33H234.07V34.87H234.20V36.40H234.33V37.93H234.47V39.47H234.60V41.00H234.71V42.43H234.83V43.86H234.94V45.29H235.06V46.71H235.17V48.14H235.29V49.57H235.40V51.00H235.50V52.41H235.60V53.82H235.70V55.23H235.80V56.64H235.90V58.05H236.00V59.45H236.10V60.86H236.20V62.27H236.30V63.68H236.40V65.09H236.50V66.50H236.70V68.03H236.90V69.57H237.10V71.10H237.30V72.63H237.50V74.17H237.70V75.70H238.00V77.24H238.30V78.78H238.60V80.32H238.90V81.86H239.20V83.40H239.73V84.93H240.27V86.47H240.80V88.00H242.30V89.50H243.80V91.00H245.35V92.95H246.90V94.90H247.33V96.43H247.77V97.97H248.20V99.50H248.53V101.07H248.87V102.63H249.20V104.20H250.50V104.43H251.80V104.67H253.10V104.90H254.45V105.10H255.80V105.30H257.15V105.50H258.50V105.70H259.70V105.91H260.90V106.13H262.10V106.34H263.30V106.56H264.50V106.77H265.70V106.99H266.90V107.20H268.25V107.60H269.60V108.00H270.95V108.40H272.30V108.80H273.45V108.87H274.60V108.93H275.75V109.00H276.90V109.07H278.05V109.13H279.20V109.20H280.30V109.22H281.40V109.24H282.50V109.26H283.60V109.29H284.70V109.31H285.80V109.33H286.90V109.35H288.00V109.37H289.10V109.39H290.20V109.41H291.30V109.44H292.40V109.46H293.50V109.48H294.60V109.50H294.60V110.90H294.60V112.30H295.71V112.30H296.81V112.30H297.92V112.30H299.03V112.30H300.13V112.30H301.24V112.30H302.34V112.30H303.45V112.30H304.56V112.30H305.66V112.30H306.77V112.30H307.88V112.30H308.98V112.30H310.09V112.30H311.19V112.30H312.30V112.30H313.41V112.30H314.51V112.30H315.62V112.30H316.73V112.30H317.83V112.30H318.94V112.30H320.04V112.30H321.15V112.30H322.26V112.30H323.36V112.30H324.47V112.30H325.57V112.30H326.68V112.30H327.79V112.30H328.89V112.30H330.00V112.30H331.11V112.30H332.21V112.30H333.32V112.30H334.43V112.30H335.53V112.30H336.64V112.30H337.74V112.30H338.85V112.30H339.96V112.30H341.06V112.30H342.17V112.30H343.27V112.30H344.38V112.30H345.49V112.30H346.59V112.30H347.70V112.30" fill="none" stroke="#2a5f9e" stroke-width="1.3"/>
<line x1="217.90" y1="154.00" x2="227.10" y2="154.00" stroke="#c0143c" stroke-width="1.1"/>
<text x="234.00" y="155.63" font-size="4.8" text-anchor="middle" fill="#555">401</text>
<text x="259.70" y="155.63" font-size="4.8" text-anchor="middle" fill="#555">104</text>
<text x="285.40" y="155.63" font-size="4.8" text-anchor="middle" fill="#555">49</text>
<text x="311.10" y="155.63" font-size="4.8" text-anchor="middle" fill="#555">27</text>
<text x="336.80" y="155.63" font-size="4.8" text-anchor="middle" fill="#555">11</text>
<text x="362.50" y="155.63" font-size="4.8" text-anchor="middle" fill="#555">3</text>
<line x1="217.90" y1="163.45" x2="227.10" y2="163.45" stroke="#eba21f" stroke-width="1.1"/>
<text x="234.00" y="165.08" font-size="4.8" text-anchor="middle" fill="#555">313</text>
<text x="259.70" y="165.08" font-size="4.8" text-anchor="middle" fill="#555">29</text>
<text x="285.40" y="165.08" font-size="4.8" text-anchor="middle" fill="#555">2</text>
<text x="311.10" y="165.08" font-size="4.8" text-anchor="middle" fill="#555">2</text>
<text x="336.80" y="165.08" font-size="4.8" text-anchor="middle" fill="#555">1</text>
<text x="362.50" y="165.08" font-size="4.8" text-anchor="middle" fill="#555">0</text>
<line x1="217.90" y1="172.90" x2="227.10" y2="172.90" stroke="#2a5f9e" stroke-width="1.1"/>
<text x="234.00" y="174.53" font-size="4.8" text-anchor="middle" fill="#555">190</text>
<text x="259.70" y="174.53" font-size="4.8" text-anchor="middle" fill="#555">9</text>
<text x="285.40" y="174.53" font-size="4.8" text-anchor="middle" fill="#555">5</text>
<text x="311.10" y="174.53" font-size="4.8" text-anchor="middle" fill="#555">2</text>
<text x="336.80" y="174.53" font-size="4.8" text-anchor="middle" fill="#555">1</text>
<text x="362.50" y="174.53" font-size="4.8" text-anchor="middle" fill="#555">0</text>
<line x1="403.20" y1="28.60" x2="403.20" y2="120.30" stroke="#1a1a1a" stroke-width="1.2"/>
<line x1="402.60" y1="119.70" x2="518.30" y2="119.70" stroke="#1a1a1a" stroke-width="1.2"/>
<line x1="400.20" y1="119.70" x2="403.20" y2="119.70" stroke="#1a1a1a" stroke-width="0.9"/>
<text x="397.80" y="121.74" font-size="6.0" text-anchor="end" fill="#444" textLength="10.00" lengthAdjust="spacingAndGlyphs">0.0</text>
<line x1="400.20" y1="101.98" x2="403.20" y2="101.98" stroke="#1a1a1a" stroke-width="0.9"/>
<text x="397.80" y="104.02" font-size="6.0" text-anchor="end" fill="#444" textLength="10.00" lengthAdjust="spacingAndGlyphs">0.2</text>
<line x1="400.20" y1="84.26" x2="403.20" y2="84.26" stroke="#1a1a1a" stroke-width="0.9"/>
<text x="397.80" y="86.30" font-size="6.0" text-anchor="end" fill="#444" textLength="10.00" lengthAdjust="spacingAndGlyphs">0.4</text>
<line x1="400.20" y1="66.54" x2="403.20" y2="66.54" stroke="#1a1a1a" stroke-width="0.9"/>
<text x="397.80" y="68.58" font-size="6.0" text-anchor="end" fill="#444" textLength="10.00" lengthAdjust="spacingAndGlyphs">0.6</text>
<line x1="400.20" y1="48.82" x2="403.20" y2="48.82" stroke="#1a1a1a" stroke-width="0.9"/>
<text x="397.80" y="50.86" font-size="6.0" text-anchor="end" fill="#444" textLength="10.00" lengthAdjust="spacingAndGlyphs">0.8</text>
<line x1="400.20" y1="31.10" x2="403.20" y2="31.10" stroke="#1a1a1a" stroke-width="0.9"/>
<text x="397.80" y="33.14" font-size="6.0" text-anchor="end" fill="#444" textLength="8.50" lengthAdjust="spacingAndGlyphs">1.0</text>
<line x1="403.20" y1="119.70" x2="403.20" y2="122.70" stroke="#1a1a1a" stroke-width="0.9"/>
<text x="403.20" y="130.84" font-size="6.0" text-anchor="middle" fill="#444">0</text>
<line x1="428.82" y1="119.70" x2="428.82" y2="122.70" stroke="#1a1a1a" stroke-width="0.9"/>
<text x="428.82" y="130.84" font-size="6.0" text-anchor="middle" fill="#444">50</text>
<line x1="454.45" y1="119.70" x2="454.45" y2="122.70" stroke="#1a1a1a" stroke-width="0.9"/>
<text x="454.45" y="130.84" font-size="6.0" text-anchor="middle" fill="#444">100</text>
<line x1="480.07" y1="119.70" x2="480.07" y2="122.70" stroke="#1a1a1a" stroke-width="0.9"/>
<text x="480.07" y="130.84" font-size="6.0" text-anchor="middle" fill="#444">150</text>
<line x1="505.70" y1="119.70" x2="505.70" y2="122.70" stroke="#1a1a1a" stroke-width="0.9"/>
<text x="505.70" y="130.84" font-size="6.0" text-anchor="middle" fill="#444">200</text>
<text transform="translate(380.80 74.20) rotate(-90)" x="0" y="2.79" font-size="8.2" stroke="#333" stroke-width="0.15" text-anchor="middle" textLength="43.80" lengthAdjust="spacingAndGlyphs">Overall survival</text>
<text x="459.40" y="143.26" font-size="9.0" stroke="#333" stroke-width="0.2" text-anchor="middle" textLength="80.00" lengthAdjust="spacingAndGlyphs">Time after diagnosis (month)</text>
<text x="459.80" y="32.80" font-size="5.6" text-anchor="middle" fill="#444" textLength="34.00" lengthAdjust="spacingAndGlyphs">DDX41-mutated</text>
<text x="459.70" y="40.24" font-size="5.4" text-anchor="middle" fill="#444" textLength="16.50" lengthAdjust="spacingAndGlyphs"><tspan font-style="italic">P</tspan> = .104</text>
<line x1="470.00" y1="44.50" x2="478.50" y2="44.50" stroke="#c0143c" stroke-width="1.2"/>
<text x="481.80" y="46.77" font-size="5.8" fill="#444" textLength="32.80" lengthAdjust="spacingAndGlyphs">Lower-risk MDS</text>
<line x1="470.00" y1="52.20" x2="478.50" y2="52.20" stroke="#eba21f" stroke-width="1.2"/>
<text x="481.80" y="54.47" font-size="5.8" fill="#444" textLength="33.90" lengthAdjust="spacingAndGlyphs">Higher-risk MDS</text>
<line x1="470.00" y1="59.70" x2="478.50" y2="59.70" stroke="#2a5f9e" stroke-width="1.2"/>
<text x="481.80" y="61.97" font-size="5.8" fill="#444" textLength="11.70" lengthAdjust="spacingAndGlyphs">sAML</text>
<path d="M403.20 31.10H405.00V31.10H405.00V33.50H406.50V33.50H406.50V37.30H427.70V37.30H427.70V44.20H432.30V44.20H432.30V53.50H435.80V53.50H435.80V62.70H438.00V62.70H438.00V69.60H441.00V69.60H441.00V81.80H450.80V81.80H450.80V90.40H455.40V90.40H455.40V100.80H466.50V100.80H466.50V119.70" fill="none" stroke="#c0143c" stroke-width="1.2"/>
<path d="M403.20 31.10H405.80V31.10H405.80V37.30H412.70V37.30H412.70V43.00H416.20V43.00H416.20V47.70H419.60V47.70H419.60V52.30H421.00V52.30H421.00V55.00H422.00V55.00H422.00V58.00H423.00V58.00H423.00V62.50H424.20V62.50H424.20V67.30H425.00V67.30H425.00V71.00H426.00V71.00H426.00V74.20H427.70V74.20H427.70V81.80H447.30V81.80H447.30V91.50H456.50V91.50H456.50V100.80H469.20V100.80H469.20V110.00H517.70V110.00H517.70V119.70" fill="none" stroke="#eba21f" stroke-width="1.2"/>
<path d="M403.20 31.10H404.60V31.10H404.60V38.00H405.50V38.00H405.50V43.00H407.00V43.00H407.00V47.70H410.40V47.70H410.40V54.60H413.80V54.60H413.80V60.40H415.50V60.40H415.50V64.00H417.30V64.00H417.30V67.30H418.50V67.30H418.50V71.00H419.60V71.00H419.60V74.20H427.70V74.20H427.70V82.30H430.00V82.30H430.00V96.20H489.50V96.20H489.50V119.70" fill="none" stroke="#2a5f9e" stroke-width="1.2"/>
<line x1="387.30" y1="154.00" x2="396.80" y2="154.00" stroke="#c0143c" stroke-width="1.1"/>
<text x="403.20" y="155.63" font-size="4.8" text-anchor="middle" fill="#555">40</text>
<text x="428.82" y="155.63" font-size="4.8" text-anchor="middle" fill="#555">9</text>
<text x="454.45" y="155.63" font-size="4.8" text-anchor="middle" fill="#555">3</text>
<text x="480.07" y="155.63" font-size="4.8" text-anchor="middle" fill="#555">0</text>
<text x="505.70" y="155.63" font-size="4.8" text-anchor="middle" fill="#555">0</text>
<line x1="387.30" y1="163.45" x2="396.80" y2="163.45" stroke="#eba21f" stroke-width="1.1"/>
<text x="403.20" y="165.08" font-size="4.8" text-anchor="middle" fill="#555">84</text>
<text x="428.82" y="165.08" font-size="4.8" text-anchor="middle" fill="#555">9</text>
<text x="454.45" y="165.08" font-size="4.8" text-anchor="middle" fill="#555">3</text>
<text x="480.07" y="165.08" font-size="4.8" text-anchor="middle" fill="#555">1</text>
<text x="505.70" y="165.08" font-size="4.8" text-anchor="middle" fill="#555">1</text>
<line x1="387.30" y1="172.90" x2="396.80" y2="172.90" stroke="#2a5f9e" stroke-width="1.1"/>
<text x="403.20" y="174.53" font-size="4.8" text-anchor="middle" fill="#555">52</text>
<text x="428.82" y="174.53" font-size="4.8" text-anchor="middle" fill="#555">3</text>
<text x="454.45" y="174.53" font-size="4.8" text-anchor="middle" fill="#555">2</text>
<text x="480.07" y="174.53" font-size="4.8" text-anchor="middle" fill="#555">1</text>
<text x="505.70" y="174.53" font-size="4.8" text-anchor="middle" fill="#555">0</text>
<text x="374.85" y="191.90" font-size="7.8" stroke="#2a2a2a" stroke-width="0.15" text-anchor="middle" fill="#2a2a2a" textLength="22.70" lengthAdjust="spacingAndGlyphs">IPSS-R</text>
<line x1="233.60" y1="203.80" x2="233.60" y2="293.40" stroke="#1a1a1a" stroke-width="1.2"/>
<line x1="233.00" y1="292.80" x2="365.50" y2="292.80" stroke="#1a1a1a" stroke-width="1.2"/>
<line x1="230.60" y1="292.50" x2="233.60" y2="292.50" stroke="#1a1a1a" stroke-width="0.9"/>
<text x="228.60" y="294.54" font-size="6.0" text-anchor="end" fill="#444" textLength="9.50" lengthAdjust="spacingAndGlyphs">0.0</text>
<line x1="230.60" y1="275.26" x2="233.60" y2="275.26" stroke="#1a1a1a" stroke-width="0.9"/>
<text x="228.60" y="277.30" font-size="6.0" text-anchor="end" fill="#444" textLength="9.50" lengthAdjust="spacingAndGlyphs">0.2</text>
<line x1="230.60" y1="258.02" x2="233.60" y2="258.02" stroke="#1a1a1a" stroke-width="0.9"/>
<text x="228.60" y="260.06" font-size="6.0" text-anchor="end" fill="#444" textLength="9.50" lengthAdjust="spacingAndGlyphs">0.4</text>
<line x1="230.60" y1="240.78" x2="233.60" y2="240.78" stroke="#1a1a1a" stroke-width="0.9"/>
<text x="228.60" y="242.82" font-size="6.0" text-anchor="end" fill="#444" textLength="9.50" lengthAdjust="spacingAndGlyphs">0.6</text>
<line x1="230.60" y1="223.54" x2="233.60" y2="223.54" stroke="#1a1a1a" stroke-width="0.9"/>
<text x="228.60" y="225.58" font-size="6.0" text-anchor="end" fill="#444" textLength="9.50" lengthAdjust="spacingAndGlyphs">0.8</text>
<line x1="230.60" y1="206.30" x2="233.60" y2="206.30" stroke="#1a1a1a" stroke-width="0.9"/>
<text x="228.60" y="208.34" font-size="6.0" text-anchor="end" fill="#444" textLength="8.07" lengthAdjust="spacingAndGlyphs">1.0</text>
<line x1="234.00" y1="292.80" x2="234.00" y2="295.80" stroke="#1a1a1a" stroke-width="0.9"/>
<text x="234.00" y="304.14" font-size="6.0" text-anchor="middle" fill="#444">0</text>
<line x1="258.90" y1="292.80" x2="258.90" y2="295.80" stroke="#1a1a1a" stroke-width="0.9"/>
<text x="258.90" y="304.14" font-size="6.0" text-anchor="middle" fill="#444">50</text>
<line x1="283.80" y1="292.80" x2="283.80" y2="295.80" stroke="#1a1a1a" stroke-width="0.9"/>
<text x="283.80" y="304.14" font-size="6.0" text-anchor="middle" fill="#444">100</text>
<line x1="308.70" y1="292.80" x2="308.70" y2="295.80" stroke="#1a1a1a" stroke-width="0.9"/>
<text x="308.70" y="304.14" font-size="6.0" text-anchor="middle" fill="#444">150</text>
<line x1="333.60" y1="292.80" x2="333.60" y2="295.80" stroke="#1a1a1a" stroke-width="0.9"/>
<text x="333.60" y="304.14" font-size="6.0" text-anchor="middle" fill="#444">200</text>
<line x1="358.50" y1="292.80" x2="358.50" y2="295.80" stroke="#1a1a1a" stroke-width="0.9"/>
<text x="358.50" y="304.14" font-size="6.0" text-anchor="middle" fill="#444">250</text>
<text transform="translate(211.90 248.00) rotate(-90)" x="0" y="2.79" font-size="8.2" stroke="#333" stroke-width="0.15" text-anchor="middle" textLength="43.00" lengthAdjust="spacingAndGlyphs">Overall survival</text>
<text x="300.00" y="316.06" font-size="9.0" stroke="#333" stroke-width="0.2" text-anchor="middle" textLength="81.60" lengthAdjust="spacingAndGlyphs">Time after diagnosis (month)</text>
<text x="296.50" y="208.00" font-size="5.6" text-anchor="middle" fill="#444" textLength="17.70" lengthAdjust="spacingAndGlyphs">DDX41-WT</text>
<text x="299.80" y="216.04" font-size="5.4" text-anchor="middle" fill="#444" textLength="26.50" lengthAdjust="spacingAndGlyphs"><tspan font-style="italic">P</tspan> &lt; 1.0×10<tspan font-size="3.4" dy="-2">-10</tspan></text>
<line x1="326.90" y1="199.90" x2="336.90" y2="199.90" stroke="#8a6a5a" stroke-width="1.2"/>
<text x="339.20" y="202.17" font-size="5.8" fill="#444" textLength="19.00" lengthAdjust="spacingAndGlyphs">Very Low</text>
<line x1="326.90" y1="205.80" x2="336.90" y2="205.80" stroke="#d0103a" stroke-width="1.2"/>
<text x="339.20" y="208.07" font-size="5.8" fill="#444" textLength="8.70" lengthAdjust="spacingAndGlyphs">Low</text>
<line x1="326.90" y1="211.20" x2="336.90" y2="211.20" stroke="#1f8c7a" stroke-width="1.2"/>
<text x="339.20" y="213.47" font-size="5.8" fill="#444" textLength="27.00" lengthAdjust="spacingAndGlyphs">Intermediate</text>
<line x1="326.90" y1="217.00" x2="336.90" y2="217.00" stroke="#2c6fa8" stroke-width="1.2"/>
<text x="339.20" y="219.27" font-size="5.8" fill="#444" textLength="10.00" lengthAdjust="spacingAndGlyphs">High</text>
<line x1="326.90" y1="222.70" x2="336.90" y2="222.70" stroke="#6cc04a" stroke-width="1.2"/>
<text x="339.20" y="224.97" font-size="5.8" fill="#444" textLength="20.40" lengthAdjust="spacingAndGlyphs">Very High</text>
<path d="M234.50 206.70H239.60V206.70H239.60V210.10H257.40V210.10H257.40V214.80H265.60V214.80H265.60V220.80H269.30V220.80H269.30V226.50H278.20V226.50H278.20V234.90H359.90V234.90" fill="none" stroke="#8a6a5a" stroke-width="1.2"/>
<path d="M234.50 206.70H235.90V207.00H237.13V207.00H238.37V207.00H239.60V207.00H240.35V209.05H241.10V211.10H242.33V212.10H243.57V213.10H244.80V214.10H246.30V215.10H247.80V216.10H249.30V217.10H250.53V218.07H251.77V219.03H253.00V220.00H254.50V222.30H255.80V222.65H257.10V223.00H258.40V223.35H259.70V223.70H261.15V224.45H262.60V225.20H263.80V225.34H265.00V225.48H266.20V225.62H267.40V225.76H268.60V225.90H269.80V225.90H271.00V225.90H272.20V225.90H273.40V225.90H274.60V225.90H275.80V225.90H277.00V225.90H278.20V225.90H279.40V225.90H280.60V225.90H281.80V225.90H283.00V225.90H284.20V225.90H285.40V225.90H286.60V225.90H286.60V228.80H287.81V228.80H289.02V228.80H290.22V228.80H291.43V228.80H292.64V228.80H293.85V228.80H295.06V228.80H296.26V228.80H297.47V228.80H298.68V228.80H299.89V228.80H301.10V228.80H302.30V228.80H303.51V228.80H304.72V228.80H305.93V228.80H307.13V228.80H308.34V228.80H309.55V228.80H310.76V228.80H311.97V228.80H313.17V228.80H314.38V228.80H315.59V228.80H316.80V228.80H318.01V228.80H319.21V228.80H320.42V228.80H321.63V228.80H322.84V228.80H324.05V228.80H325.25V228.80H326.46V228.80H327.67V228.80H328.88V228.80H330.09V228.80H331.29V228.80H332.50V228.80H333.71V228.80H334.92V228.80H336.13V228.80H337.33V228.80H338.54V228.80H339.75V228.80H340.96V228.80H342.17V228.80H343.37V228.80H344.58V228.80H345.79V228.80H347.00V228.80H348.20V228.80H349.41V228.80H350.62V228.80H351.83V228.80H353.04V228.80H354.24V228.80H355.45V228.80H356.66V228.80H357.87V228.80H359.08V228.80H360.28V228.80H361.49V228.80H362.70V228.80" fill="none" stroke="#d0103a" stroke-width="1.2"/>
<path d="M234.50 206.70H235.23V208.43H235.97V210.17H236.70V211.90H237.80V214.10H238.90V216.30H239.65V217.80H240.40V219.30H241.15V220.80H241.90V222.30H243.35V224.50H244.80V226.70H245.57V228.20H246.33V229.70H247.10V231.20H248.20V233.05H249.30V234.90H250.77V236.37H252.23V237.83H253.70V239.30H254.70V240.80H255.70V242.30H256.70V243.80H258.20V244.03H259.70V244.27H261.20V244.50H262.67V245.00H264.13V245.50H265.60V246.00H266.97V246.25H268.33V246.50H269.70V246.75H271.07V247.00H272.43V247.25H273.80V247.50H276.00V247.50H276.00V249.47H276.00V251.43H276.00V253.40H277.21V253.40H278.43V253.40H279.64V253.40H280.86V253.40H282.07V253.40H283.28V253.40H284.50V253.40H285.71V253.40H286.93V253.40H288.14V253.40H289.35V253.40H290.57V253.40H291.78V253.40H292.99V253.40H294.21V253.40H295.42V253.40H296.64V253.40H297.85V253.40H299.06V253.40H300.28V253.40H301.49V253.40H302.71V253.40H303.92V253.40H305.13V253.40H306.35V253.40H307.56V253.40H308.77V253.40H309.99V253.40H311.20V253.40H312.42V253.40H313.63V253.40H314.84V253.40H316.06V253.40H317.27V253.40H318.49V253.40H319.70V253.40H320.91V253.40H322.13V253.40H323.34V253.40H324.56V253.40H325.77V253.40H326.98V253.40H328.20V253.40H329.41V253.40H330.62V253.40H331.84V253.40H333.05V253.40H334.27V253.40H335.48V253.40H336.69V253.40H337.91V253.40H339.12V253.40H340.34V253.40H341.55V253.40H342.76V253.40H343.98V253.40H345.19V253.40H346.41V253.40H347.62V253.40H348.83V253.40H350.05V253.40H351.26V253.40H352.47V253.40H353.69V253.40H354.90V253.40H356.12V253.40H357.33V253.40H358.54V253.40H359.76V253.40H360.97V253.40H362.19V253.40H363.40V253.40" fill="none" stroke="#1f8c7a" stroke-width="1.2"/>
<path d="M234.50 206.70H234.85V208.38H235.20V210.05H235.55V211.72H235.90V213.40H236.67V215.37H237.43V217.33H238.20V219.30H238.67V221.27H239.13V223.23H239.60V225.20H240.18V227.05H240.75V228.90H241.32V230.75H241.90V232.60H242.87V234.10H243.83V235.60H244.80V237.10H246.30V238.83H247.80V240.57H249.30V242.30H250.40V243.98H251.50V245.65H252.60V247.32H253.70V249.00H254.70V250.73H255.70V252.47H256.70V254.20H258.20V254.90H259.70V255.60H261.00V255.80H262.30V256.00H263.60V256.20H264.90V256.40H265.60V258.60H266.87V258.70H268.14V258.80H269.41V258.90H270.69V259.00H271.96V259.10H273.23V259.20H274.50V259.30H276.00V260.80H277.50V262.30H278.00V264.03H278.50V265.77H279.00V267.50H280.27V267.63H281.53V267.77H282.80V267.90H284.07V268.03H285.33V268.17H286.60V268.30H286.60V269.82H286.60V271.34H286.60V272.86H286.60V274.38H286.60V275.90H287.81V275.90H289.02V275.90H290.23V275.90H291.44V275.90H292.65V275.90H293.85V275.90H295.06V275.90H296.27V275.90H297.48V275.90H298.69V275.90H299.90V275.90H299.90V277.56H299.90V279.22H299.90V280.88H299.90V282.54H299.90V284.20H301.12V284.20H302.35V284.20H303.57V284.20H304.80V284.20H306.02V284.20H307.25V284.20H308.47V284.20H309.70V284.20H310.92V284.20H312.14V284.20H313.37V284.20H314.59V284.20H315.82V284.20H317.04V284.20H318.27V284.20H319.49V284.20H320.71V284.20H321.94V284.20H323.16V284.20H324.39V284.20H325.61V284.20H326.84V284.20H328.06V284.20H329.29V284.20H330.51V284.20H331.73V284.20H332.96V284.20H334.18V284.20H335.41V284.20H336.63V284.20H337.86V284.20H339.08V284.20H340.30V284.20H341.53V284.20H342.75V284.20H343.98V284.20H345.20V284.20H346.43V284.20H347.65V284.20H348.88V284.20H350.10V284.20" fill="none" stroke="#2c6fa8" stroke-width="1.2"/>
<path d="M234.50 206.70H234.68V208.09H234.85V209.47H235.03V210.86H235.20V212.25H235.38V213.64H235.55V215.03H235.72V216.41H235.90V217.80H236.09V219.29H236.28V220.78H236.46V222.26H236.65V223.75H236.84V225.24H237.03V226.72H237.21V228.21H237.40V229.70H237.59V231.17H237.78V232.65H237.96V234.12H238.15V235.60H238.34V237.07H238.53V238.55H238.71V240.03H238.90V241.50H239.27V242.98H239.63V244.47H240.00V245.95H240.37V247.43H240.73V248.92H241.10V250.40H241.56V251.90H242.02V253.40H242.48V254.90H242.94V256.40H243.40V257.90H243.98V259.38H244.56V260.86H245.14V262.34H245.72V263.82H246.30V265.30H246.90V266.78H247.50V268.26H248.10V269.74H248.70V271.22H249.30V272.70H250.05V274.38H250.80V276.05H251.55V277.72H252.30V279.40H253.57V279.40H254.85V279.40H256.12V279.40H257.40V279.40H257.40V281.20H257.40V283.00H258.90V283.00H260.40V283.00H260.40V284.68H260.40V286.35H260.40V288.02H260.40V289.70H261.50V289.70H262.60V289.70H263.70V289.70H264.80V289.70H265.90V289.70H267.00V289.70H268.10V289.70H269.20V289.70H270.30V289.70H271.40V289.70H272.50V289.70H273.60V289.70H274.70V289.70H275.80V289.70H276.90V289.70H278.00V289.70H279.10V289.70H280.20V289.70H281.30V289.70H282.40V289.70H283.50V289.70H284.60V289.70H285.70V289.70H286.80V289.70H287.90V289.70H289.00V289.70H290.10V289.70H291.20V289.70H292.30V289.70H293.40V289.70H294.50V289.70H295.60V289.70H296.70V289.70H297.80V289.70H298.90V289.70H300.00V289.70H301.10V289.70H302.20V289.70H303.30V289.70H304.40V289.70H305.50V289.70H306.60V289.70H307.70V289.70H308.80V289.70H309.90V289.70H311.00V289.70H312.10V289.70H313.20V289.70H314.30V289.70" fill="none" stroke="#6cc04a" stroke-width="1.2"/>
<line x1="214.80" y1="327.30" x2="224.10" y2="327.30" stroke="#8a6a5a" stroke-width="1.1"/>
<text x="234.00" y="328.93" font-size="4.8" text-anchor="middle" fill="#555">31</text>
<text x="258.90" y="328.93" font-size="4.8" text-anchor="middle" fill="#555">15</text>
<text x="283.80" y="328.93" font-size="4.8" text-anchor="middle" fill="#555">7</text>
<text x="308.70" y="328.93" font-size="4.8" text-anchor="middle" fill="#555">6</text>
<text x="333.60" y="328.93" font-size="4.8" text-anchor="middle" fill="#555">3</text>
<text x="358.50" y="328.93" font-size="4.8" text-anchor="middle" fill="#555">1</text>
<line x1="214.80" y1="336.72" x2="224.10" y2="336.72" stroke="#d0103a" stroke-width="1.1"/>
<text x="234.00" y="338.35" font-size="4.8" text-anchor="middle" fill="#555">129</text>
<text x="258.90" y="338.35" font-size="4.8" text-anchor="middle" fill="#555">44</text>
<text x="283.80" y="338.35" font-size="4.8" text-anchor="middle" fill="#555">24</text>
<text x="308.70" y="338.35" font-size="4.8" text-anchor="middle" fill="#555">12</text>
<text x="333.60" y="338.35" font-size="4.8" text-anchor="middle" fill="#555">3</text>
<text x="358.50" y="338.35" font-size="4.8" text-anchor="middle" fill="#555">1</text>
<line x1="214.80" y1="346.14" x2="224.10" y2="346.14" stroke="#1f8c7a" stroke-width="1.1"/>
<text x="234.00" y="347.77" font-size="4.8" text-anchor="middle" fill="#555">99</text>
<text x="258.90" y="347.77" font-size="4.8" text-anchor="middle" fill="#555">25</text>
<text x="283.80" y="347.77" font-size="4.8" text-anchor="middle" fill="#555">8</text>
<text x="308.70" y="347.77" font-size="4.8" text-anchor="middle" fill="#555">4</text>
<text x="333.60" y="347.77" font-size="4.8" text-anchor="middle" fill="#555">2</text>
<text x="358.50" y="347.77" font-size="4.8" text-anchor="middle" fill="#555">1</text>
<line x1="214.80" y1="355.56" x2="224.10" y2="355.56" stroke="#2c6fa8" stroke-width="1.1"/>
<text x="234.00" y="357.19" font-size="4.8" text-anchor="middle" fill="#555">103</text>
<text x="258.90" y="357.19" font-size="4.8" text-anchor="middle" fill="#555">16</text>
<text x="283.80" y="357.19" font-size="4.8" text-anchor="middle" fill="#555">3</text>
<text x="308.70" y="357.19" font-size="4.8" text-anchor="middle" fill="#555">1</text>
<text x="333.60" y="357.19" font-size="4.8" text-anchor="middle" fill="#555">1</text>
<text x="358.50" y="357.19" font-size="4.8" text-anchor="middle" fill="#555">0</text>
<line x1="214.80" y1="364.98" x2="224.10" y2="364.98" stroke="#6cc04a" stroke-width="1.1"/>
<text x="234.00" y="366.61" font-size="4.8" text-anchor="middle" fill="#555">104</text>
<text x="258.90" y="366.61" font-size="4.8" text-anchor="middle" fill="#555">4</text>
<text x="283.80" y="366.61" font-size="4.8" text-anchor="middle" fill="#555">1</text>
<text x="308.70" y="366.61" font-size="4.8" text-anchor="middle" fill="#555">1</text>
<text x="333.60" y="366.61" font-size="4.8" text-anchor="middle" fill="#555">0</text>
<text x="358.50" y="366.61" font-size="4.8" text-anchor="middle" fill="#555">0</text>
<line x1="403.60" y1="205.00" x2="403.60" y2="293.30" stroke="#1a1a1a" stroke-width="1.2"/>
<line x1="403.00" y1="292.70" x2="514.60" y2="292.70" stroke="#1a1a1a" stroke-width="1.2"/>
<line x1="400.60" y1="292.70" x2="403.60" y2="292.70" stroke="#1a1a1a" stroke-width="0.9"/>
<text x="398.10" y="294.74" font-size="6.0" text-anchor="end" fill="#444" textLength="9.80" lengthAdjust="spacingAndGlyphs">0.0</text>
<line x1="400.60" y1="275.66" x2="403.60" y2="275.66" stroke="#1a1a1a" stroke-width="0.9"/>
<text x="398.10" y="277.70" font-size="6.0" text-anchor="end" fill="#444" textLength="9.80" lengthAdjust="spacingAndGlyphs">0.2</text>
<line x1="400.60" y1="258.62" x2="403.60" y2="258.62" stroke="#1a1a1a" stroke-width="0.9"/>
<text x="398.10" y="260.66" font-size="6.0" text-anchor="end" fill="#444" textLength="9.80" lengthAdjust="spacingAndGlyphs">0.4</text>
<line x1="400.60" y1="241.58" x2="403.60" y2="241.58" stroke="#1a1a1a" stroke-width="0.9"/>
<text x="398.10" y="243.62" font-size="6.0" text-anchor="end" fill="#444" textLength="9.80" lengthAdjust="spacingAndGlyphs">0.6</text>
<line x1="400.60" y1="224.54" x2="403.60" y2="224.54" stroke="#1a1a1a" stroke-width="0.9"/>
<text x="398.10" y="226.58" font-size="6.0" text-anchor="end" fill="#444" textLength="9.80" lengthAdjust="spacingAndGlyphs">0.8</text>
<line x1="400.60" y1="207.50" x2="403.60" y2="207.50" stroke="#1a1a1a" stroke-width="0.9"/>
<text x="398.10" y="209.54" font-size="6.0" text-anchor="end" fill="#444" textLength="8.33" lengthAdjust="spacingAndGlyphs">1.0</text>
<line x1="403.40" y1="292.70" x2="403.40" y2="295.70" stroke="#1a1a1a" stroke-width="0.9"/>
<text x="403.40" y="305.14" font-size="6.0" text-anchor="middle" fill="#444">0</text>
<line x1="428.45" y1="292.70" x2="428.45" y2="295.70" stroke="#1a1a1a" stroke-width="0.9"/>
<text x="428.45" y="305.14" font-size="6.0" text-anchor="middle" fill="#444">50</text>
<line x1="453.50" y1="292.70" x2="453.50" y2="295.70" stroke="#1a1a1a" stroke-width="0.9"/>
<text x="453.50" y="305.14" font-size="6.0" text-anchor="middle" fill="#444">100</text>
<line x1="478.55" y1="292.70" x2="478.55" y2="295.70" stroke="#1a1a1a" stroke-width="0.9"/>
<text x="478.55" y="305.14" font-size="6.0" text-anchor="middle" fill="#444">150</text>
<line x1="503.60" y1="292.70" x2="503.60" y2="295.70" stroke="#1a1a1a" stroke-width="0.9"/>
<text x="503.60" y="305.14" font-size="6.0" text-anchor="middle" fill="#444">200</text>
<text transform="translate(381.10 248.50) rotate(-90)" x="0" y="2.79" font-size="8.2" stroke="#333" stroke-width="0.15" text-anchor="middle" textLength="43.70" lengthAdjust="spacingAndGlyphs">Overall survival</text>
<text x="458.00" y="315.76" font-size="9.0" stroke="#333" stroke-width="0.2" text-anchor="middle" textLength="83.50" lengthAdjust="spacingAndGlyphs">Time after diagnosis (months)</text>
<text x="459.00" y="208.40" font-size="5.6" text-anchor="middle" fill="#444" textLength="33.40" lengthAdjust="spacingAndGlyphs">DDX41-mutated</text>
<text x="459.60" y="216.04" font-size="5.4" text-anchor="middle" fill="#444" textLength="14.60" lengthAdjust="spacingAndGlyphs"><tspan font-style="italic">P</tspan> = .910</text>
<line x1="480.80" y1="200.40" x2="490.00" y2="200.40" stroke="#8a6a5a" stroke-width="1.2"/>
<text x="493.10" y="202.67" font-size="5.8" fill="#444" textLength="19.00" lengthAdjust="spacingAndGlyphs">Very Low</text>
<line x1="480.80" y1="205.80" x2="490.00" y2="205.80" stroke="#d0103a" stroke-width="1.2"/>
<text x="493.10" y="208.07" font-size="5.8" fill="#444" textLength="8.70" lengthAdjust="spacingAndGlyphs">Low</text>
<line x1="480.80" y1="211.20" x2="490.00" y2="211.20" stroke="#1f8c7a" stroke-width="1.2"/>
<text x="493.10" y="213.47" font-size="5.8" fill="#444" textLength="27.00" lengthAdjust="spacingAndGlyphs">Intermediate</text>
<line x1="480.80" y1="217.00" x2="490.00" y2="217.00" stroke="#2c6fa8" stroke-width="1.2"/>
<text x="493.10" y="219.27" font-size="5.8" fill="#444" textLength="10.00" lengthAdjust="spacingAndGlyphs">High</text>
<line x1="480.80" y1="222.70" x2="490.00" y2="222.70" stroke="#6cc04a" stroke-width="1.2"/>
<text x="493.10" y="224.97" font-size="5.8" fill="#444" textLength="20.40" lengthAdjust="spacingAndGlyphs">Very High</text>
<path d="M403.60 207.40H427.30V207.40H427.30V235.90H436.20V235.90H436.20V292.70" fill="none" stroke="#8a6a5a" stroke-width="1.2"/>
<path d="M403.60 207.40H406.50V207.40H406.50V218.50H423.60V218.50H423.60V227.40H429.20V227.40H429.20V235.90H432.50V235.90H432.50V248.00H439.50V248.00H439.50V259.30H455.40V259.30H455.40V270.20H466.70V270.20H466.70V292.70" fill="none" stroke="#d0103a" stroke-width="1.2"/>
<path d="M403.60 207.40H406.00V207.40H406.00V209.50H415.10V209.50H415.10V213.40H419.30V213.40H419.30V222.00H421.70V222.00H421.70V235.90H426.40V235.90H426.40V246.20H429.60V246.20H429.60V257.90H447.50V257.90H447.50V275.70H451.20V275.70H451.20V292.70" fill="none" stroke="#1f8c7a" stroke-width="1.2"/>
<path d="M403.60 207.40H407.00V207.40H407.00V210.50H415.10V210.50H415.10V214.00H420.70V214.00H420.70V226.50H424.50V226.50H424.50V254.90H449.00V254.90H449.00V275.00H450.40V275.00H450.40V292.70" fill="none" stroke="#2c6fa8" stroke-width="1.2"/>
<path d="M403.60 207.40H405.00V207.40H405.00V210.10H412.30V210.10H412.30V225.60H414.20V225.60H414.20V232.00H414.70V232.00H414.70V239.10H455.40V239.10H455.40V266.20H514.00V266.20H514.00V292.70" fill="none" stroke="#6cc04a" stroke-width="1.2"/>
<line x1="388.00" y1="327.40" x2="396.70" y2="327.40" stroke="#8a6a5a" stroke-width="1.1"/>
<text x="403.40" y="329.03" font-size="4.8" text-anchor="middle" fill="#555">9</text>
<text x="428.45" y="329.03" font-size="4.8" text-anchor="middle" fill="#555">2</text>
<text x="453.50" y="329.03" font-size="4.8" text-anchor="middle" fill="#555">0</text>
<text x="478.55" y="329.03" font-size="4.8" text-anchor="middle" fill="#555">0</text>
<text x="503.60" y="329.03" font-size="4.8" text-anchor="middle" fill="#555">0</text>
<line x1="388.00" y1="336.82" x2="396.70" y2="336.82" stroke="#d0103a" stroke-width="1.1"/>
<text x="403.40" y="338.45" font-size="4.8" text-anchor="middle" fill="#555">19</text>
<text x="428.45" y="338.45" font-size="4.8" text-anchor="middle" fill="#555">7</text>
<text x="453.50" y="338.45" font-size="4.8" text-anchor="middle" fill="#555">3</text>
<text x="478.55" y="338.45" font-size="4.8" text-anchor="middle" fill="#555">0</text>
<text x="503.60" y="338.45" font-size="4.8" text-anchor="middle" fill="#555">0</text>
<line x1="388.00" y1="346.24" x2="396.70" y2="346.24" stroke="#1f8c7a" stroke-width="1.1"/>
<text x="403.40" y="347.87" font-size="4.8" text-anchor="middle" fill="#555">46</text>
<text x="428.45" y="347.87" font-size="4.8" text-anchor="middle" fill="#555">4</text>
<text x="453.50" y="347.87" font-size="4.8" text-anchor="middle" fill="#555">1</text>
<text x="478.55" y="347.87" font-size="4.8" text-anchor="middle" fill="#555">0</text>
<text x="503.60" y="347.87" font-size="4.8" text-anchor="middle" fill="#555">0</text>
<line x1="388.00" y1="355.66" x2="396.70" y2="355.66" stroke="#2c6fa8" stroke-width="1.1"/>
<text x="403.40" y="357.29" font-size="4.8" text-anchor="middle" fill="#555">25</text>
<text x="428.45" y="357.29" font-size="4.8" text-anchor="middle" fill="#555">3</text>
<text x="453.50" y="357.29" font-size="4.8" text-anchor="middle" fill="#555">0</text>
<text x="478.55" y="357.29" font-size="4.8" text-anchor="middle" fill="#555">0</text>
<text x="503.60" y="357.29" font-size="4.8" text-anchor="middle" fill="#555">0</text>
<line x1="388.00" y1="365.08" x2="396.70" y2="365.08" stroke="#6cc04a" stroke-width="1.1"/>
<text x="403.40" y="366.71" font-size="4.8" text-anchor="middle" fill="#555">23</text>
<text x="428.45" y="366.71" font-size="4.8" text-anchor="middle" fill="#555">2</text>
<text x="453.50" y="366.71" font-size="4.8" text-anchor="middle" fill="#555">2</text>
<text x="478.55" y="366.71" font-size="4.8" text-anchor="middle" fill="#555">1</text>
<text x="503.60" y="366.71" font-size="4.8" text-anchor="middle" fill="#555">1</text>
<text x="202.30" y="422.58" font-size="12" font-weight="bold" fill="#000" textLength="8.70" lengthAdjust="spacingAndGlyphs">D</text>
<text x="316.25" y="428.51" font-size="6.5" text-anchor="middle" fill="#2a2a2a" textLength="65.70" lengthAdjust="spacingAndGlyphs">MDS, MDS/MPN, sAML</text>
<line x1="233.70" y1="431.50" x2="233.70" y2="562.40" stroke="#1a1a1a" stroke-width="1.2"/>
<line x1="233.10" y1="561.80" x2="396.70" y2="561.80" stroke="#1a1a1a" stroke-width="1.2"/>
<line x1="230.70" y1="561.80" x2="233.70" y2="561.80" stroke="#1a1a1a" stroke-width="0.9"/>
<text x="227.20" y="563.77" font-size="5.8" text-anchor="end" fill="#444" textLength="8.20" lengthAdjust="spacingAndGlyphs">0.0</text>
<line x1="230.70" y1="536.28" x2="233.70" y2="536.28" stroke="#1a1a1a" stroke-width="0.9"/>
<text x="227.20" y="538.25" font-size="5.8" text-anchor="end" fill="#444" textLength="8.20" lengthAdjust="spacingAndGlyphs">0.2</text>
<line x1="230.70" y1="510.76" x2="233.70" y2="510.76" stroke="#1a1a1a" stroke-width="0.9"/>
<text x="227.20" y="512.73" font-size="5.8" text-anchor="end" fill="#444" textLength="8.20" lengthAdjust="spacingAndGlyphs">0.4</text>
<line x1="230.70" y1="485.24" x2="233.70" y2="485.24" stroke="#1a1a1a" stroke-width="0.9"/>
<text x="227.20" y="487.21" font-size="5.8" text-anchor="end" fill="#444" textLength="8.20" lengthAdjust="spacingAndGlyphs">0.6</text>
<line x1="230.70" y1="459.72" x2="233.70" y2="459.72" stroke="#1a1a1a" stroke-width="0.9"/>
<text x="227.20" y="461.69" font-size="5.8" text-anchor="end" fill="#444" textLength="8.20" lengthAdjust="spacingAndGlyphs">0.8</text>
<line x1="230.70" y1="434.20" x2="233.70" y2="434.20" stroke="#1a1a1a" stroke-width="0.9"/>
<text x="227.20" y="436.17" font-size="5.8" text-anchor="end" fill="#444" textLength="6.97" lengthAdjust="spacingAndGlyphs">1.0</text>
<line x1="233.60" y1="561.80" x2="233.60" y2="564.80" stroke="#1a1a1a" stroke-width="0.9"/>
<text x="233.60" y="573.17" font-size="5.8" text-anchor="middle" fill="#444">0</text>
<line x1="271.10" y1="561.80" x2="271.10" y2="564.80" stroke="#1a1a1a" stroke-width="0.9"/>
<text x="271.10" y="573.17" font-size="5.8" text-anchor="middle" fill="#444">50</text>
<line x1="308.60" y1="561.80" x2="308.60" y2="564.80" stroke="#1a1a1a" stroke-width="0.9"/>
<text x="308.60" y="573.17" font-size="5.8" text-anchor="middle" fill="#444">100</text>
<line x1="346.10" y1="561.80" x2="346.10" y2="564.80" stroke="#1a1a1a" stroke-width="0.9"/>
<text x="346.10" y="573.17" font-size="5.8" text-anchor="middle" fill="#444">150</text>
<line x1="383.60" y1="561.80" x2="383.60" y2="564.80" stroke="#1a1a1a" stroke-width="0.9"/>
<text x="383.60" y="573.17" font-size="5.8" text-anchor="middle" fill="#444">200</text>
<text transform="translate(211.80 493.60) rotate(-90)" x="0" y="2.58" font-size="7.6" stroke="#333" stroke-width="0.15" text-anchor="middle" textLength="37.40" lengthAdjust="spacingAndGlyphs">Overall survival</text>
<text x="316.00" y="585.72" font-size="8.6" stroke="#333" stroke-width="0.2" text-anchor="middle" textLength="84.00" lengthAdjust="spacingAndGlyphs">Time after diagnosis (months)</text>
<line x1="311.30" y1="445.80" x2="318.80" y2="445.80" stroke="#c4c4c4" stroke-width="1.2"/>
<text x="321.30" y="448.00" font-size="5.6" fill="#444" textLength="55.70" lengthAdjust="spacingAndGlyphs">DDX41-mutated, TP53-WT</text>
<line x1="311.30" y1="453.00" x2="318.80" y2="453.00" stroke="#3aaee0" stroke-width="1.2"/>
<text x="321.30" y="455.20" font-size="5.6" fill="#444" textLength="44.30" lengthAdjust="spacingAndGlyphs">DDX41-WT, TP53-WT</text>
<line x1="311.30" y1="463.80" x2="318.80" y2="463.80" stroke="#f2b530" stroke-width="1.2"/>
<text x="321.30" y="466.00" font-size="5.6" fill="#444" textLength="81.70" lengthAdjust="spacingAndGlyphs">DDX41-mutated, TP53-mutated (single)</text>
<line x1="311.30" y1="470.50" x2="318.80" y2="470.50" stroke="#6b2f6e" stroke-width="1.2"/>
<text x="321.30" y="472.70" font-size="5.6" fill="#444" textLength="70.70" lengthAdjust="spacingAndGlyphs">DDX41-WT, TP53-mutated (single)</text>
<line x1="311.30" y1="481.80" x2="318.80" y2="481.80" stroke="#b5173e" stroke-width="1.2"/>
<text x="321.30" y="484.00" font-size="5.6" fill="#444" textLength="79.20" lengthAdjust="spacingAndGlyphs">DDX41-mutated, TP53-mutated (multi)</text>
<line x1="311.30" y1="488.30" x2="318.80" y2="488.30" stroke="#2b5d80" stroke-width="1.2"/>
<text x="321.30" y="490.50" font-size="5.6" fill="#444" textLength="69.20" lengthAdjust="spacingAndGlyphs">DDX41-WT, TP53-mutated (multi)</text>
<line x1="407.00" y1="445.00" x2="407.00" y2="455.00" stroke="#444" stroke-width="0.9"/>
<text x="410.00" y="451.77" font-size="5.2" fill="#444" textLength="13.00" lengthAdjust="spacingAndGlyphs"><tspan font-style="italic">P</tspan> = .19</text>
<line x1="407.00" y1="462.50" x2="407.00" y2="472.00" stroke="#444" stroke-width="0.9"/>
<text x="410.00" y="469.07" font-size="5.2" fill="#444" textLength="25.00" lengthAdjust="spacingAndGlyphs"><tspan font-style="italic">P</tspan> = 5.8×10<tspan font-size="3.4" dy="-2">-2</tspan></text>
<line x1="407.00" y1="480.00" x2="407.00" y2="489.50" stroke="#444" stroke-width="0.9"/>
<text x="410.00" y="486.57" font-size="5.2" fill="#444" textLength="25.00" lengthAdjust="spacingAndGlyphs"><tspan font-style="italic">P</tspan> = 1.2×10<tspan font-size="3.4" dy="-2">-2</tspan></text>
<path d="M233.60 434.20H233.98V436.10H234.36V438.00H234.74V439.90H235.12V441.80H235.50V443.70H235.88V445.60H236.26V447.50H236.64V449.40H237.02V451.30H237.40V453.20H237.82V455.10H238.24V457.00H238.66V458.90H239.08V460.80H239.50V462.70H240.20V465.13H240.90V467.57H241.60V470.00H242.12V471.88H242.65V473.75H243.17V475.62H243.70V477.50H244.40V479.60H245.10V481.70H245.80V483.80H246.53V486.27H247.27V488.73H248.00V491.20H248.50V493.30H249.00V495.40H249.50V497.50H250.00V499.60H250.37V502.07H250.73V504.53H251.10V507.00H253.05V507.25H255.00V507.50H256.65V507.50H258.30V507.50H259.95V507.50H261.60V507.50H261.60V510.20H264.20V510.20H264.20V512.80H264.20V515.40H265.80V515.40H267.40V515.40H269.00V515.40H269.00V517.67H269.00V519.93H269.00V522.20H270.51V522.20H272.02V522.20H273.53V522.20H275.04V522.20H276.55V522.20H278.07V522.20H279.58V522.20H281.09V522.20H282.60V522.20H284.11V522.20H285.62V522.20H287.13V522.20H288.64V522.20H290.15V522.20H291.66V522.20H293.17V522.20H294.68V522.20H296.20V522.20H297.71V522.20H299.22V522.20H300.73V522.20H302.24V522.20H303.75V522.20H305.26V522.20H306.77V522.20H308.28V522.20H309.79V522.20H311.30V522.20H312.82V522.20H314.33V522.20H315.84V522.20H317.35V522.20H318.86V522.20H320.37V522.20H321.88V522.20H323.39V522.20H324.90V522.20H326.41V522.20H327.92V522.20H329.43V522.20H330.95V522.20H332.46V522.20H333.97V522.20H335.48V522.20H336.99V522.20H338.50V522.20" fill="none" stroke="#6b2f6e" stroke-width="1.1"/>
<path d="M233.60 434.20H233.70V435.96H233.80V437.71H233.90V439.47H234.00V441.22H234.10V442.98H234.20V444.73H234.30V446.49H234.40V448.24H234.50V450.00H234.59V451.77H234.68V453.53H234.77V455.30H234.86V457.07H234.94V458.83H235.03V460.60H235.12V462.37H235.21V464.13H235.30V465.90H235.41V467.53H235.52V469.17H235.63V470.80H235.74V472.43H235.86V474.07H235.97V475.70H236.08V477.33H236.19V478.97H236.30V480.60H236.49V482.33H236.68V484.05H236.87V485.78H237.06V487.51H237.25V489.24H237.45V490.96H237.64V492.69H237.83V494.42H238.02V496.15H238.21V497.87H238.40V499.60H238.63V501.24H238.87V502.89H239.10V504.53H239.33V506.18H239.57V507.82H239.80V509.47H240.03V511.11H240.27V512.76H240.50V514.40H240.94V516.30H241.38V518.20H241.82V520.10H242.26V522.00H242.70V523.90H243.47V525.75H244.25V527.60H245.03V529.45H245.80V531.30H246.87V533.03H247.93V534.77H249.00V536.50H250.60V538.10H252.20V539.70H253.23V541.47H254.27V543.23H255.30V545.00H256.90V546.05H258.50V547.10H259.82V547.35H261.15V547.60H262.48V547.85H263.80V548.10H265.26V548.10H266.72V548.10H268.18V548.10H269.64V548.10H271.10V548.10H271.10V549.80H271.10V551.50H272.41V551.50H273.72V551.50H275.02V551.50H276.33V551.50H277.64V551.50H278.95V551.50H280.26V551.50H281.56V551.50H282.87V551.50H284.18V551.50H285.49V551.50H286.80V551.50H288.10V551.50H289.41V551.50H290.72V551.50H292.03V551.50H293.33V551.50H294.64V551.50H295.95V551.50H297.26V551.50H298.57V551.50H299.87V551.50H301.18V551.50H302.49V551.50H303.80V551.50H305.11V551.50H306.41V551.50H307.72V551.50H309.03V551.50H310.34V551.50H311.65V551.50H312.95V551.50H314.26V551.50H315.57V551.50H316.88V551.50H318.19V551.50H319.49V551.50H320.80V551.50H322.11V551.50H323.42V551.50H324.73V551.50H326.03V551.50H327.34V551.50H328.65V551.50H329.96V551.50H331.27V551.50H332.57V551.50H333.88V551.50H335.19V551.50H336.50V551.50H337.80V551.50H339.11V551.50H340.42V551.50H341.73V551.50H343.04V551.50H344.34V551.50H345.65V551.50H346.96V551.50H348.27V551.50H349.58V551.50H350.88V551.50H352.19V551.50H353.50V551.50" fill="none" stroke="#2b5d80" stroke-width="1.2"/>
<path d="M233.60 434.20H237.00V434.20H237.00V440.00H240.50V440.00H240.50V445.20H248.00V445.20H248.00V451.00H250.00V451.00H250.00V456.40H252.20V456.40H252.20V459.50H259.50V459.50H259.50V463.30H262.70V463.30H262.70V467.60H264.80V467.60H264.80V471.10H267.00V471.10H267.00V474.30H270.00V474.30H270.00V480.60H272.20V480.60H272.20V484.90H273.20V484.90H273.20V496.50H303.80V496.50H303.80V515.20H359.20V515.20H359.20V545.40" fill="none" stroke="#c4c4c4" stroke-width="1.2"/>
<path d="M233.60 434.20H234.08V435.76H234.56V437.32H235.04V438.88H235.52V440.44H236.00V442.00H236.60V443.75H237.20V445.50H237.80V447.25H238.40V449.00H239.20V450.57H240.00V452.15H240.80V453.73H241.60V455.30H242.65V457.15H243.70V459.00H244.75V460.85H245.80V462.70H246.86V464.38H247.92V466.06H248.98V467.74H250.04V469.42H251.10V471.10H252.42V472.95H253.75V474.80H255.07V476.65H256.40V478.50H257.70V479.82H259.00V481.15H260.30V482.48H261.60V483.80H262.93V484.70H264.25V485.60H265.57V486.50H266.90V487.40H268.22V488.35H269.55V489.30H270.88V490.25H272.20V491.20H273.40V491.64H274.60V492.09H275.80V492.53H277.00V492.97H278.20V493.41H279.40V493.86H280.60V494.30H281.88V494.74H283.16V495.18H284.44V495.62H285.72V496.06H287.00V496.50H288.26V496.92H289.52V497.34H290.78V497.76H292.04V498.18H293.30V498.60H294.70V499.12H296.10V499.63H297.50V500.15H298.90V500.67H300.30V501.18H301.70V501.70H302.93V502.11H304.15V502.52H305.38V502.94H306.60V503.35H307.82V503.76H309.05V504.18H310.27V504.59H311.50V505.00H312.78V505.22H314.06V505.44H315.33V505.67H316.61V505.89H317.89V506.11H319.17V506.33H320.44V506.56H321.72V506.78H323.00V507.00H324.24V507.26H325.49V507.51H326.73V507.77H327.97V508.03H329.21V508.29H330.46V508.54H331.70V508.80H332.92V508.80H334.14V508.80H335.36V508.80H336.59V508.80H337.81V508.80H339.03V508.80H340.25V508.80H341.47V508.80H342.69V508.80H343.91V508.80H345.14V508.80H346.36V508.80H347.58V508.80H348.80V508.80H350.02V508.80H351.24V508.80H352.46V508.80H353.69V508.80H354.91V508.80H356.13V508.80H357.35V508.80H358.57V508.80H359.79V508.80H361.01V508.80H362.24V508.80H363.46V508.80H364.68V508.80H365.90V508.80H367.12V508.80H368.34V508.80H369.56V508.80H370.79V508.80H372.01V508.80H373.23V508.80H374.45V508.80H375.67V508.80H376.89V508.80H378.11V508.80H379.34V508.80H380.56V508.80H381.78V508.80H383.00V508.80" fill="none" stroke="#3aaee0" stroke-width="1.6"/>
<path d="M233.60 434.20H257.00V434.20H257.00V470.50H264.80V470.50" fill="none" stroke="#f2b530" stroke-width="1.2"/>
<path d="M233.60 434.20H236.00V434.20H236.00V460.60H276.80V460.60H276.80V489.00H287.40V489.00H287.40V518.50H329.40V518.50H329.40V545.80" fill="none" stroke="#b5173e" stroke-width="1.2"/>
<line x1="218.10" y1="596.10" x2="227.20" y2="596.10" stroke="#3aaee0" stroke-width="1.1"/>
<text x="233.60" y="597.73" font-size="4.8" text-anchor="middle" fill="#555">687</text>
<text x="271.10" y="597.73" font-size="4.8" text-anchor="middle" fill="#555">131</text>
<text x="308.60" y="597.73" font-size="4.8" text-anchor="middle" fill="#555">53</text>
<text x="346.10" y="597.73" font-size="4.8" text-anchor="middle" fill="#555">29</text>
<text x="383.60" y="597.73" font-size="4.8" text-anchor="middle" fill="#555">0</text>
<line x1="218.10" y1="604.30" x2="227.20" y2="604.30" stroke="#6b2f6e" stroke-width="1.1"/>
<text x="233.60" y="605.93" font-size="4.8" text-anchor="middle" fill="#555">47</text>
<text x="271.10" y="605.93" font-size="4.8" text-anchor="middle" fill="#555">4</text>
<text x="308.60" y="605.93" font-size="4.8" text-anchor="middle" fill="#555">1</text>
<text x="346.10" y="605.93" font-size="4.8" text-anchor="middle" fill="#555">0</text>
<text x="383.60" y="605.93" font-size="4.8" text-anchor="middle" fill="#555">0</text>
<line x1="218.10" y1="612.50" x2="227.20" y2="612.50" stroke="#2b5d80" stroke-width="1.1"/>
<text x="233.60" y="614.13" font-size="4.8" text-anchor="middle" fill="#555">125</text>
<text x="271.10" y="614.13" font-size="4.8" text-anchor="middle" fill="#555">5</text>
<text x="308.60" y="614.13" font-size="4.8" text-anchor="middle" fill="#555">2</text>
<text x="346.10" y="614.13" font-size="4.8" text-anchor="middle" fill="#555">2</text>
<text x="383.60" y="614.13" font-size="4.8" text-anchor="middle" fill="#555">0</text>
<line x1="218.10" y1="620.70" x2="227.20" y2="620.70" stroke="#c4c4c4" stroke-width="1.1"/>
<text x="233.60" y="622.33" font-size="4.8" text-anchor="middle" fill="#555">98</text>
<text x="271.10" y="622.33" font-size="4.8" text-anchor="middle" fill="#555">7</text>
<text x="308.60" y="622.33" font-size="4.8" text-anchor="middle" fill="#555">2</text>
<text x="346.10" y="622.33" font-size="4.8" text-anchor="middle" fill="#555">1</text>
<text x="383.60" y="622.33" font-size="4.8" text-anchor="middle" fill="#555">0</text>
<line x1="218.10" y1="628.90" x2="227.20" y2="628.90" stroke="#f2b530" stroke-width="1.1"/>
<text x="233.60" y="630.53" font-size="4.8" text-anchor="middle" fill="#555">9</text>
<text x="271.10" y="630.53" font-size="4.8" text-anchor="middle" fill="#555">0</text>
<text x="308.60" y="630.53" font-size="4.8" text-anchor="middle" fill="#555">0</text>
<text x="346.10" y="630.53" font-size="4.8" text-anchor="middle" fill="#555">0</text>
<text x="383.60" y="630.53" font-size="4.8" text-anchor="middle" fill="#555">0</text>
<line x1="218.10" y1="637.10" x2="227.20" y2="637.10" stroke="#b5173e" stroke-width="1.1"/>
<text x="233.60" y="638.73" font-size="4.8" text-anchor="middle" fill="#555">11</text>
<text x="271.10" y="638.73" font-size="4.8" text-anchor="middle" fill="#555">3</text>
<text x="308.60" y="638.73" font-size="4.8" text-anchor="middle" fill="#555">1</text>
<text x="346.10" y="638.73" font-size="4.8" text-anchor="middle" fill="#555">0</text>
<text x="383.60" y="638.73" font-size="4.8" text-anchor="middle" fill="#555">0</text>
</svg>
</body></html>
